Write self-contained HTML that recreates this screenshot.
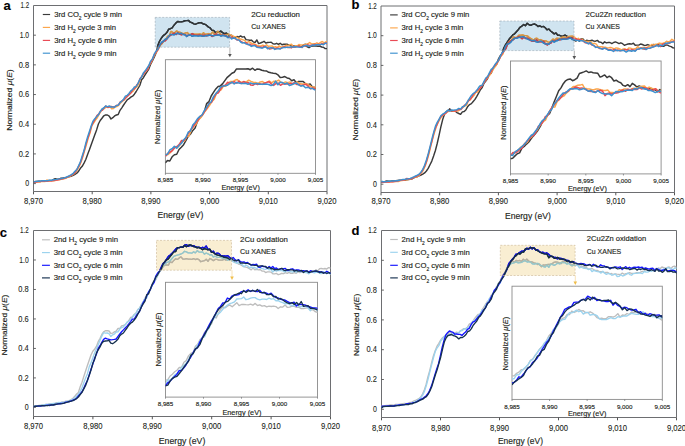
<!DOCTYPE html>
<html><head><meta charset="utf-8"><style>
html,body{margin:0;padding:0;background:#fff;width:685px;height:446px;overflow:hidden}
svg{display:block;font-family:"Liberation Sans", sans-serif}
text{stroke:#231f20;stroke-width:0.14px}
.tk{stroke-width:0.1px}
</style></head><body>
<svg width="685" height="446" viewBox="0 0 685 446">
<rect width="685" height="446" fill="#fff"/>
<path d="M33.5,5.5 L327.0,5.5 L327.0,191.5 L33.5,191.5 Z" fill="none" stroke="#6d6e71" stroke-width="1"/>
<line x1="33.5" y1="183.60" x2="35.9" y2="183.60" stroke="#555" stroke-width="0.9"/>
<text x="29.10" y="186.30" font-size="8.6" text-anchor="end" textLength="3.9" lengthAdjust="spacingAndGlyphs" fill="#231f20" class="tk">0</text>
<line x1="33.5" y1="153.92" x2="35.9" y2="153.92" stroke="#555" stroke-width="0.9"/>
<text x="29.10" y="156.62" font-size="8.6" text-anchor="end" textLength="10.4" lengthAdjust="spacingAndGlyphs" fill="#231f20" class="tk">0.2</text>
<line x1="33.5" y1="124.23" x2="35.9" y2="124.23" stroke="#555" stroke-width="0.9"/>
<text x="29.10" y="126.93" font-size="8.6" text-anchor="end" textLength="10.4" lengthAdjust="spacingAndGlyphs" fill="#231f20" class="tk">0.4</text>
<line x1="33.5" y1="94.55" x2="35.9" y2="94.55" stroke="#555" stroke-width="0.9"/>
<text x="29.10" y="97.25" font-size="8.6" text-anchor="end" textLength="10.4" lengthAdjust="spacingAndGlyphs" fill="#231f20" class="tk">0.6</text>
<line x1="33.5" y1="64.87" x2="35.9" y2="64.87" stroke="#555" stroke-width="0.9"/>
<text x="29.10" y="67.57" font-size="8.6" text-anchor="end" textLength="10.4" lengthAdjust="spacingAndGlyphs" fill="#231f20" class="tk">0.8</text>
<line x1="33.5" y1="35.18" x2="35.9" y2="35.18" stroke="#555" stroke-width="0.9"/>
<text x="29.10" y="37.88" font-size="8.6" text-anchor="end" textLength="9.4" lengthAdjust="spacingAndGlyphs" fill="#231f20" class="tk">1.0</text>
<text x="29.10" y="8.20" font-size="8.6" text-anchor="end" textLength="8.6" lengthAdjust="spacingAndGlyphs" fill="#231f20" class="tk">1.2</text>
<line x1="33.50" y1="191.5" x2="33.50" y2="194.3" stroke="#555" stroke-width="1"/>
<text x="33.50" y="203.50" font-size="8.6" text-anchor="middle" textLength="19.2" lengthAdjust="spacingAndGlyphs" fill="#231f20" class="tk">8,970</text>
<line x1="92.20" y1="191.5" x2="92.20" y2="194.3" stroke="#555" stroke-width="1"/>
<text x="92.20" y="203.50" font-size="8.6" text-anchor="middle" textLength="19.2" lengthAdjust="spacingAndGlyphs" fill="#231f20" class="tk">8,980</text>
<line x1="150.90" y1="191.5" x2="150.90" y2="194.3" stroke="#555" stroke-width="1"/>
<text x="150.90" y="203.50" font-size="8.6" text-anchor="middle" textLength="19.2" lengthAdjust="spacingAndGlyphs" fill="#231f20" class="tk">8,990</text>
<line x1="209.60" y1="191.5" x2="209.60" y2="194.3" stroke="#555" stroke-width="1"/>
<text x="209.60" y="203.50" font-size="8.6" text-anchor="middle" textLength="19.2" lengthAdjust="spacingAndGlyphs" fill="#231f20" class="tk">9,000</text>
<line x1="268.30" y1="191.5" x2="268.30" y2="194.3" stroke="#555" stroke-width="1"/>
<text x="268.30" y="203.50" font-size="8.6" text-anchor="middle" textLength="19.2" lengthAdjust="spacingAndGlyphs" fill="#231f20" class="tk">9,010</text>
<line x1="327.00" y1="191.5" x2="327.00" y2="194.3" stroke="#555" stroke-width="1"/>
<text x="327.00" y="203.50" font-size="8.6" text-anchor="middle" textLength="19.2" lengthAdjust="spacingAndGlyphs" fill="#231f20" class="tk">9,020</text>
<text x="157.50" y="218.00" font-size="8.4" textLength="45.80000000000001" lengthAdjust="spacingAndGlyphs" fill="#231f20">Energy (eV)</text>
<text transform="translate(11.5,130.70) rotate(-90)" x="0" y="0" font-size="8" fill="#231f20" textLength="61.4" lengthAdjust="spacingAndGlyphs">Normalized <tspan font-style="italic">μ</tspan>(<tspan font-style="italic">E</tspan>)</text>
<text x="3.60" y="9.70" font-size="13" font-weight="bold" fill="#000">a</text>
<line x1="42.8" y1="14.5" x2="50.1" y2="14.5" stroke="#3a3a3a" stroke-width="1.15"/>
<text x="54.2" y="17.00" font-size="7.3" fill="#231f20" textLength="67.8" lengthAdjust="spacingAndGlyphs">3rd CO<tspan font-size="4.6" dy="2.8">2</tspan><tspan dy="-2.8"> cycle 9 min</tspan></text>
<line x1="42.8" y1="27.4" x2="50.1" y2="27.4" stroke="#fca64c" stroke-width="1.15"/>
<text x="54.2" y="29.90" font-size="7.3" fill="#231f20" textLength="61.9" lengthAdjust="spacingAndGlyphs">3rd H<tspan font-size="4.6" dy="2.8">2</tspan><tspan dy="-2.8"> cycle 3 min</tspan></text>
<line x1="42.8" y1="40.4" x2="50.1" y2="40.4" stroke="#e94b56" stroke-width="1.15"/>
<text x="54.2" y="42.90" font-size="7.3" fill="#231f20" textLength="62.4" lengthAdjust="spacingAndGlyphs">3rd H<tspan font-size="4.6" dy="2.8">2</tspan><tspan dy="-2.8"> cycle 6 min</tspan></text>
<line x1="42.8" y1="53.2" x2="50.1" y2="53.2" stroke="#3d91cf" stroke-width="1.15"/>
<text x="54.2" y="55.70" font-size="7.3" fill="#231f20" textLength="62.4" lengthAdjust="spacingAndGlyphs">3rd H<tspan font-size="4.6" dy="2.8">2</tspan><tspan dy="-2.8"> cycle 9 min</tspan></text>
<text x="251.20" y="16.80" font-size="7.3" textLength="48.8" lengthAdjust="spacingAndGlyphs" fill="#231f20">2Cu reduction</text>
<text x="251.20" y="29.40" font-size="7.3" textLength="34.6" lengthAdjust="spacingAndGlyphs" fill="#231f20">Cu XANES</text>
<rect x="155.2" y="17.4" width="74.4" height="29.800000000000004" fill="#d0e4f0"/>
<clipPath id="am"><rect x="33.5" y="5.5" width="293.5" height="186.0"/></clipPath>
<path d="M33.6,182.0 L35.4,181.5 L37.2,181.4 L39.0,181.1 L40.8,181.4 L42.6,180.7 L44.4,181.3 L46.2,180.7 L48.0,180.8 L49.8,180.5 L51.6,180.6 L53.4,179.5 L55.2,178.8 L57.0,179.1 L58.8,179.1 L60.6,178.3 L62.4,178.1 L64.2,177.6 L66.0,177.5 L67.8,177.2 L69.6,176.5 L71.4,176.2 L73.2,175.3 L75.0,174.3 L76.8,173.2 L78.6,171.2 L80.4,168.3 L82.2,166.3 L84.0,163.1 L85.8,159.5 L87.6,154.4 L89.4,149.8 L91.2,144.8 L93.0,139.8 L94.8,134.8 L96.6,129.9 L98.4,124.0 L100.2,120.5 L102.0,118.2 L103.8,115.8 L105.6,114.9 L107.4,115.0 L109.2,116.1 L111.0,119.0 L112.8,117.7 L114.6,115.9 L116.4,115.0 L118.2,114.5 L120.0,110.3 L121.8,107.8 L123.6,105.0 L125.4,102.4 L127.2,99.8 L129.0,98.7 L130.8,97.1 L132.6,96.2 L134.4,94.2 L136.2,91.5 L138.0,88.5 L139.8,85.5 L141.6,79.8 L143.4,77.7 L145.2,74.7 L147.0,71.8 L148.8,69.1 L150.6,64.3 L152.4,61.0 L154.2,57.1 L156.0,53.1 L157.8,45.6 L159.6,41.1 L161.4,38.0 L163.2,35.7 L165.0,34.4 L166.8,32.6 L168.6,29.3 L170.4,28.7 L172.2,27.8 L174.0,25.2 L175.8,23.1 L177.6,21.5 L179.4,21.8 L181.2,21.9 L183.0,21.5 L184.8,20.8 L186.6,20.6 L188.4,20.4 L190.2,22.1 L192.0,22.7 L193.8,23.9 L195.6,24.2 L197.4,23.4 L199.2,22.8 L201.0,22.6 L202.8,23.7 L204.6,24.2 L206.4,25.2 L208.2,26.9 L210.0,27.8 L211.8,30.1 L213.6,30.4 L215.4,32.5 L217.2,32.1 L219.0,32.2 L220.8,31.1 L222.6,32.6 L224.4,33.7 L226.2,33.1 L228.0,34.3 L229.8,35.4 L231.6,35.2 L233.4,38.3 L235.2,37.9 L237.0,36.5 L238.8,37.2 L240.6,35.9 L242.4,37.1 L244.2,36.6 L246.0,39.6 L247.8,39.9 L249.6,40.3 L251.4,40.1 L253.2,41.8 L255.0,42.6 L256.8,39.9 L258.6,43.6 L260.4,43.0 L262.2,42.3 L264.0,41.3 L265.8,43.1 L267.6,42.5 L269.4,42.4 L271.2,42.2 L273.0,43.7 L274.8,44.1 L276.6,43.3 L278.4,44.4 L280.2,43.3 L282.0,44.8 L283.8,44.2 L285.6,44.1 L287.4,44.3 L289.2,45.3 L291.0,45.7 L292.8,46.0 L294.6,46.0 L296.4,46.1 L298.2,45.8 L300.0,46.3 L301.8,46.6 L303.6,45.0 L305.4,44.3 L307.2,46.9 L309.0,47.7 L310.8,46.4 L312.6,46.0 L314.4,46.0 L316.2,46.0 L318.0,46.3 L319.8,46.0 L321.6,47.0 L323.4,47.2 L325.2,48.6 L327.0,48.6" fill="none" stroke="#3a3a3a" stroke-width="1.45" stroke-linejoin="round" clip-path="url(#am)"/>
<path d="M34.3,182.2 L36.1,182.1 L37.9,181.7 L39.7,182.1 L41.5,181.4 L43.3,181.4 L45.1,181.5 L46.9,180.0 L48.7,180.9 L50.5,180.8 L52.3,180.8 L54.1,180.8 L55.9,180.2 L57.7,179.7 L59.5,179.7 L61.3,179.3 L63.1,179.0 L64.9,178.6 L66.7,177.6 L68.5,177.1 L70.3,176.2 L72.1,175.2 L73.9,173.9 L75.7,172.0 L77.5,169.5 L79.3,166.2 L81.1,161.9 L82.9,156.5 L84.7,150.3 L86.5,144.2 L88.3,137.8 L90.1,132.7 L91.9,125.6 L93.7,122.8 L95.5,120.0 L97.3,117.7 L99.1,114.5 L100.9,111.3 L102.7,109.7 L104.5,108.4 L106.3,107.0 L108.1,107.6 L109.9,106.3 L111.7,108.7 L113.5,108.5 L115.3,106.8 L117.1,106.5 L118.9,105.1 L120.7,102.9 L122.5,101.3 L124.3,99.9 L126.1,97.4 L127.9,95.6 L129.7,93.9 L131.5,92.3 L133.3,91.0 L135.1,88.1 L136.9,86.8 L138.7,83.8 L140.5,78.8 L142.3,75.7 L144.1,73.2 L145.9,71.4 L147.7,69.3 L149.5,64.7 L151.3,62.3 L153.1,58.3 L154.9,54.3 L156.7,52.1 L158.5,49.0 L160.3,45.1 L162.1,43.4 L163.9,40.9 L165.7,39.5 L167.5,36.4 L169.3,35.5 L171.1,31.4 L172.9,32.4 L174.7,32.7 L176.5,30.9 L178.3,31.9 L180.1,32.3 L181.9,33.3 L183.7,33.8 L185.5,33.0 L187.3,32.6 L189.1,34.5 L190.9,34.5 L192.7,33.6 L194.5,34.1 L196.3,34.1 L198.1,34.2 L199.9,34.0 L201.7,34.7 L203.5,32.8 L205.3,34.4 L207.1,34.0 L208.9,33.6 L210.7,34.3 L212.5,32.1 L214.3,34.0 L216.1,33.4 L217.9,31.2 L219.7,33.2 L221.5,34.8 L223.3,35.1 L225.1,35.0 L226.9,34.5 L228.7,34.3 L230.5,34.9 L232.3,35.8 L234.1,36.4 L235.9,36.9 L237.7,37.8 L239.5,38.7 L241.3,39.3 L243.1,39.9 L244.9,40.5 L246.7,43.3 L248.5,41.5 L250.3,42.4 L252.1,43.8 L253.9,43.8 L255.7,44.8 L257.5,45.5 L259.3,46.0 L261.1,45.9 L262.9,45.1 L264.7,46.5 L266.5,44.7 L268.3,46.2 L270.1,46.1 L271.9,45.9 L273.7,47.1 L275.5,46.8 L277.3,47.5 L279.1,45.9 L280.9,47.1 L282.7,46.7 L284.5,46.3 L286.3,45.2 L288.1,45.7 L289.9,44.8 L291.7,44.3 L293.5,47.3 L295.3,45.7 L297.1,46.0 L298.9,44.5 L300.7,45.0 L302.5,44.9 L304.3,44.6 L306.1,44.1 L307.9,43.8 L309.7,42.5 L311.5,43.9 L313.3,43.6 L315.1,43.8 L316.9,42.8 L318.7,43.8 L320.5,42.4 L322.3,41.5 L324.1,42.8 L325.9,41.8 L327.6,41.2" fill="none" stroke="#fca64c" stroke-width="1.45" stroke-linejoin="round" clip-path="url(#am)"/>
<path d="M33.9,182.3 L35.7,182.0 L37.5,181.8 L39.3,181.4 L41.1,181.4 L42.9,181.3 L44.7,181.2 L46.5,180.9 L48.3,180.9 L50.1,180.6 L51.9,180.9 L53.7,180.6 L55.5,180.1 L57.3,180.0 L59.1,179.5 L60.9,179.1 L62.7,178.7 L64.5,178.0 L66.3,177.7 L68.1,176.7 L69.9,175.9 L71.7,175.0 L73.5,173.9 L75.3,172.0 L77.1,169.2 L78.9,165.9 L80.7,162.0 L82.5,156.6 L84.3,150.3 L86.1,143.9 L87.9,137.9 L89.7,132.4 L91.5,126.0 L93.3,122.3 L95.1,119.2 L96.9,115.6 L98.7,114.1 L100.5,111.1 L102.3,110.2 L104.1,107.8 L105.9,106.0 L107.7,107.3 L109.5,107.0 L111.3,106.4 L113.1,107.1 L114.9,106.5 L116.7,105.4 L118.5,104.9 L120.3,101.8 L122.1,100.9 L123.9,99.7 L125.7,98.0 L127.5,96.3 L129.3,94.4 L131.1,92.7 L132.9,89.3 L134.7,88.8 L136.5,85.2 L138.3,83.1 L140.1,78.5 L141.9,76.4 L143.7,73.8 L145.5,71.1 L147.3,70.0 L149.1,65.3 L150.9,62.2 L152.7,58.6 L154.5,54.3 L156.3,51.8 L158.1,49.5 L159.9,44.7 L161.7,43.3 L163.5,40.9 L165.3,40.8 L167.1,38.5 L168.9,36.6 L170.7,35.0 L172.5,34.2 L174.3,33.1 L176.1,34.5 L177.9,32.8 L179.7,34.1 L181.5,34.7 L183.3,34.1 L185.1,34.9 L186.9,35.7 L188.7,35.2 L190.5,34.9 L192.3,33.7 L194.1,34.9 L195.9,35.1 L197.7,35.2 L199.5,34.9 L201.3,35.7 L203.1,35.1 L204.9,35.3 L206.7,35.8 L208.5,34.8 L210.3,35.0 L212.1,36.4 L213.9,35.4 L215.7,34.0 L217.5,34.5 L219.3,34.9 L221.1,35.5 L222.9,35.2 L224.7,35.2 L226.5,36.4 L228.3,36.7 L230.1,37.0 L231.9,37.2 L233.7,38.1 L235.5,38.7 L237.3,40.1 L239.1,40.0 L240.9,41.4 L242.7,42.4 L244.5,42.9 L246.3,42.8 L248.1,44.8 L249.9,44.1 L251.7,45.3 L253.5,45.2 L255.3,45.1 L257.1,46.7 L258.9,47.0 L260.7,47.0 L262.5,47.4 L264.3,46.2 L266.1,47.2 L267.9,47.7 L269.7,49.1 L271.5,48.6 L273.3,48.0 L275.1,48.8 L276.9,48.2 L278.7,48.1 L280.5,48.7 L282.3,47.7 L284.1,46.8 L285.9,47.1 L287.7,47.5 L289.5,47.4 L291.3,47.9 L293.1,46.5 L294.9,47.2 L296.7,46.8 L298.5,46.3 L300.3,46.7 L302.1,47.5 L303.9,45.4 L305.7,46.3 L307.5,44.8 L309.3,45.4 L311.1,45.1 L312.9,45.2 L314.7,44.3 L316.5,44.6 L318.3,44.3 L320.1,44.8 L321.9,43.6 L323.7,43.9 L325.5,43.2 L327.3,42.8 L327.3,45.1" fill="none" stroke="#e94b56" stroke-width="1.45" stroke-linejoin="round" clip-path="url(#am)"/>
<path d="M33.6,181.7 L35.4,181.6 L37.2,181.2 L39.0,181.3 L40.8,181.0 L42.6,180.7 L44.4,180.7 L46.2,180.7 L48.0,180.5 L49.8,180.1 L51.6,180.2 L53.4,179.8 L55.2,179.6 L57.0,179.4 L58.8,178.9 L60.6,178.8 L62.4,178.3 L64.2,178.0 L66.0,177.3 L67.8,176.5 L69.6,175.6 L71.4,174.6 L73.2,173.3 L75.0,171.3 L76.8,169.5 L78.6,165.7 L80.4,161.9 L82.2,155.9 L84.0,150.6 L85.8,143.2 L87.6,137.0 L89.4,131.5 L91.2,126.1 L93.0,121.1 L94.8,118.7 L96.6,116.8 L98.4,114.8 L100.2,111.7 L102.0,109.0 L103.8,108.0 L105.6,105.9 L107.4,106.8 L109.2,106.0 L111.0,107.0 L112.8,106.9 L114.6,107.3 L116.4,105.4 L118.2,105.2 L120.0,102.6 L121.8,101.1 L123.6,99.2 L125.4,96.1 L127.2,95.3 L129.0,93.4 L130.8,90.9 L132.6,89.7 L134.4,87.0 L136.2,86.5 L138.0,83.4 L139.8,79.5 L141.6,76.9 L143.4,72.9 L145.2,70.8 L147.0,68.1 L148.8,65.5 L150.6,61.1 L152.4,58.9 L154.2,54.2 L156.0,51.2 L157.8,49.1 L159.6,45.6 L161.4,42.5 L163.2,41.5 L165.0,39.5 L166.8,38.8 L168.6,36.5 L170.4,34.4 L172.2,34.6 L174.0,34.8 L175.8,33.8 L177.6,33.3 L179.4,33.9 L181.2,33.2 L183.0,34.5 L184.8,34.4 L186.6,36.5 L188.4,35.2 L190.2,34.8 L192.0,36.3 L193.8,35.7 L195.6,35.8 L197.4,35.9 L199.2,35.9 L201.0,35.5 L202.8,36.3 L204.6,36.0 L206.4,35.4 L208.2,35.5 L210.0,35.0 L211.8,35.6 L213.6,35.7 L215.4,35.4 L217.2,35.2 L219.0,34.8 L220.8,36.0 L222.6,35.3 L224.4,35.8 L226.2,35.9 L228.0,37.6 L229.8,37.0 L231.6,39.1 L233.4,37.7 L235.2,38.3 L237.0,39.7 L238.8,39.9 L240.6,42.0 L242.4,43.0 L244.2,42.6 L246.0,44.0 L247.8,44.2 L249.6,45.1 L251.4,46.4 L253.2,45.7 L255.0,45.7 L256.8,47.3 L258.6,47.5 L260.4,47.8 L262.2,48.2 L264.0,47.3 L265.8,46.8 L267.6,48.7 L269.4,48.0 L271.2,47.7 L273.0,47.9 L274.8,49.4 L276.6,48.9 L278.4,48.8 L280.2,49.0 L282.0,47.9 L283.8,47.5 L285.6,47.5 L287.4,47.1 L289.2,47.4 L291.0,46.9 L292.8,47.2 L294.6,46.7 L296.4,46.8 L298.2,47.1 L300.0,47.4 L301.8,47.3 L303.6,46.2 L305.4,45.5 L307.2,45.5 L309.0,46.2 L310.8,46.3 L312.6,44.9 L314.4,45.5 L316.2,44.7 L318.0,44.6 L319.8,44.7 L321.6,44.1 L323.4,44.7 L325.2,43.1 L327.0,43.4" fill="none" stroke="#3d91cf" stroke-width="1.45" stroke-linejoin="round" clip-path="url(#am)"/>
<clipPath id="ah"><rect x="155.2" y="17.4" width="74.4" height="29.800000000000004"/></clipPath>
<path d="M33.6,182.0 L35.4,181.5 L37.2,181.4 L39.0,181.1 L40.8,181.4 L42.6,180.7 L44.4,181.3 L46.2,180.7 L48.0,180.8 L49.8,180.5 L51.6,180.6 L53.4,179.5 L55.2,178.8 L57.0,179.1 L58.8,179.1 L60.6,178.3 L62.4,178.1 L64.2,177.6 L66.0,177.5 L67.8,177.2 L69.6,176.5 L71.4,176.2 L73.2,175.3 L75.0,174.3 L76.8,173.2 L78.6,171.2 L80.4,168.3 L82.2,166.3 L84.0,163.1 L85.8,159.5 L87.6,154.4 L89.4,149.8 L91.2,144.8 L93.0,139.8 L94.8,134.8 L96.6,129.9 L98.4,124.0 L100.2,120.5 L102.0,118.2 L103.8,115.8 L105.6,114.9 L107.4,115.0 L109.2,116.1 L111.0,119.0 L112.8,117.7 L114.6,115.9 L116.4,115.0 L118.2,114.5 L120.0,110.3 L121.8,107.8 L123.6,105.0 L125.4,102.4 L127.2,99.8 L129.0,98.7 L130.8,97.1 L132.6,96.2 L134.4,94.2 L136.2,91.5 L138.0,88.5 L139.8,85.5 L141.6,79.8 L143.4,77.7 L145.2,74.7 L147.0,71.8 L148.8,69.1 L150.6,64.3 L152.4,61.0 L154.2,57.1 L156.0,53.1 L157.8,45.6 L159.6,41.1 L161.4,38.0 L163.2,35.7 L165.0,34.4 L166.8,32.6 L168.6,29.3 L170.4,28.7 L172.2,27.8 L174.0,25.2 L175.8,23.1 L177.6,21.5 L179.4,21.8 L181.2,21.9 L183.0,21.5 L184.8,20.8 L186.6,20.6 L188.4,20.4 L190.2,22.1 L192.0,22.7 L193.8,23.9 L195.6,24.2 L197.4,23.4 L199.2,22.8 L201.0,22.6 L202.8,23.7 L204.6,24.2 L206.4,25.2 L208.2,26.9 L210.0,27.8 L211.8,30.1 L213.6,30.4 L215.4,32.5 L217.2,32.1 L219.0,32.2 L220.8,31.1 L222.6,32.6 L224.4,33.7 L226.2,33.1 L228.0,34.3 L229.8,35.4 L231.6,35.2 L233.4,38.3 L235.2,37.9 L237.0,36.5 L238.8,37.2 L240.6,35.9 L242.4,37.1 L244.2,36.6 L246.0,39.6 L247.8,39.9 L249.6,40.3 L251.4,40.1 L253.2,41.8 L255.0,42.6 L256.8,39.9 L258.6,43.6 L260.4,43.0 L262.2,42.3 L264.0,41.3 L265.8,43.1 L267.6,42.5 L269.4,42.4 L271.2,42.2 L273.0,43.7 L274.8,44.1 L276.6,43.3 L278.4,44.4 L280.2,43.3 L282.0,44.8 L283.8,44.2 L285.6,44.1 L287.4,44.3 L289.2,45.3 L291.0,45.7 L292.8,46.0 L294.6,46.0 L296.4,46.1 L298.2,45.8 L300.0,46.3 L301.8,46.6 L303.6,45.0 L305.4,44.3 L307.2,46.9 L309.0,47.7 L310.8,46.4 L312.6,46.0 L314.4,46.0 L316.2,46.0 L318.0,46.3 L319.8,46.0 L321.6,47.0 L323.4,47.2 L325.2,48.6 L327.0,48.6" fill="none" stroke="#2f3437" stroke-width="1.45" stroke-linejoin="round" clip-path="url(#ah)"/>
<path d="M34.3,182.2 L36.1,182.1 L37.9,181.7 L39.7,182.1 L41.5,181.4 L43.3,181.4 L45.1,181.5 L46.9,180.0 L48.7,180.9 L50.5,180.8 L52.3,180.8 L54.1,180.8 L55.9,180.2 L57.7,179.7 L59.5,179.7 L61.3,179.3 L63.1,179.0 L64.9,178.6 L66.7,177.6 L68.5,177.1 L70.3,176.2 L72.1,175.2 L73.9,173.9 L75.7,172.0 L77.5,169.5 L79.3,166.2 L81.1,161.9 L82.9,156.5 L84.7,150.3 L86.5,144.2 L88.3,137.8 L90.1,132.7 L91.9,125.6 L93.7,122.8 L95.5,120.0 L97.3,117.7 L99.1,114.5 L100.9,111.3 L102.7,109.7 L104.5,108.4 L106.3,107.0 L108.1,107.6 L109.9,106.3 L111.7,108.7 L113.5,108.5 L115.3,106.8 L117.1,106.5 L118.9,105.1 L120.7,102.9 L122.5,101.3 L124.3,99.9 L126.1,97.4 L127.9,95.6 L129.7,93.9 L131.5,92.3 L133.3,91.0 L135.1,88.1 L136.9,86.8 L138.7,83.8 L140.5,78.8 L142.3,75.7 L144.1,73.2 L145.9,71.4 L147.7,69.3 L149.5,64.7 L151.3,62.3 L153.1,58.3 L154.9,54.3 L156.7,52.1 L158.5,49.0 L160.3,45.1 L162.1,43.4 L163.9,40.9 L165.7,39.5 L167.5,36.4 L169.3,35.5 L171.1,31.4 L172.9,32.4 L174.7,32.7 L176.5,30.9 L178.3,31.9 L180.1,32.3 L181.9,33.3 L183.7,33.8 L185.5,33.0 L187.3,32.6 L189.1,34.5 L190.9,34.5 L192.7,33.6 L194.5,34.1 L196.3,34.1 L198.1,34.2 L199.9,34.0 L201.7,34.7 L203.5,32.8 L205.3,34.4 L207.1,34.0 L208.9,33.6 L210.7,34.3 L212.5,32.1 L214.3,34.0 L216.1,33.4 L217.9,31.2 L219.7,33.2 L221.5,34.8 L223.3,35.1 L225.1,35.0 L226.9,34.5 L228.7,34.3 L230.5,34.9 L232.3,35.8 L234.1,36.4 L235.9,36.9 L237.7,37.8 L239.5,38.7 L241.3,39.3 L243.1,39.9 L244.9,40.5 L246.7,43.3 L248.5,41.5 L250.3,42.4 L252.1,43.8 L253.9,43.8 L255.7,44.8 L257.5,45.5 L259.3,46.0 L261.1,45.9 L262.9,45.1 L264.7,46.5 L266.5,44.7 L268.3,46.2 L270.1,46.1 L271.9,45.9 L273.7,47.1 L275.5,46.8 L277.3,47.5 L279.1,45.9 L280.9,47.1 L282.7,46.7 L284.5,46.3 L286.3,45.2 L288.1,45.7 L289.9,44.8 L291.7,44.3 L293.5,47.3 L295.3,45.7 L297.1,46.0 L298.9,44.5 L300.7,45.0 L302.5,44.9 L304.3,44.6 L306.1,44.1 L307.9,43.8 L309.7,42.5 L311.5,43.9 L313.3,43.6 L315.1,43.8 L316.9,42.8 L318.7,43.8 L320.5,42.4 L322.3,41.5 L324.1,42.8 L325.9,41.8 L327.6,41.2" fill="none" stroke="#ce9448" stroke-width="1.45" stroke-linejoin="round" clip-path="url(#ah)"/>
<path d="M33.9,182.3 L35.7,182.0 L37.5,181.8 L39.3,181.4 L41.1,181.4 L42.9,181.3 L44.7,181.2 L46.5,180.9 L48.3,180.9 L50.1,180.6 L51.9,180.9 L53.7,180.6 L55.5,180.1 L57.3,180.0 L59.1,179.5 L60.9,179.1 L62.7,178.7 L64.5,178.0 L66.3,177.7 L68.1,176.7 L69.9,175.9 L71.7,175.0 L73.5,173.9 L75.3,172.0 L77.1,169.2 L78.9,165.9 L80.7,162.0 L82.5,156.6 L84.3,150.3 L86.1,143.9 L87.9,137.9 L89.7,132.4 L91.5,126.0 L93.3,122.3 L95.1,119.2 L96.9,115.6 L98.7,114.1 L100.5,111.1 L102.3,110.2 L104.1,107.8 L105.9,106.0 L107.7,107.3 L109.5,107.0 L111.3,106.4 L113.1,107.1 L114.9,106.5 L116.7,105.4 L118.5,104.9 L120.3,101.8 L122.1,100.9 L123.9,99.7 L125.7,98.0 L127.5,96.3 L129.3,94.4 L131.1,92.7 L132.9,89.3 L134.7,88.8 L136.5,85.2 L138.3,83.1 L140.1,78.5 L141.9,76.4 L143.7,73.8 L145.5,71.1 L147.3,70.0 L149.1,65.3 L150.9,62.2 L152.7,58.6 L154.5,54.3 L156.3,51.8 L158.1,49.5 L159.9,44.7 L161.7,43.3 L163.5,40.9 L165.3,40.8 L167.1,38.5 L168.9,36.6 L170.7,35.0 L172.5,34.2 L174.3,33.1 L176.1,34.5 L177.9,32.8 L179.7,34.1 L181.5,34.7 L183.3,34.1 L185.1,34.9 L186.9,35.7 L188.7,35.2 L190.5,34.9 L192.3,33.7 L194.1,34.9 L195.9,35.1 L197.7,35.2 L199.5,34.9 L201.3,35.7 L203.1,35.1 L204.9,35.3 L206.7,35.8 L208.5,34.8 L210.3,35.0 L212.1,36.4 L213.9,35.4 L215.7,34.0 L217.5,34.5 L219.3,34.9 L221.1,35.5 L222.9,35.2 L224.7,35.2 L226.5,36.4 L228.3,36.7 L230.1,37.0 L231.9,37.2 L233.7,38.1 L235.5,38.7 L237.3,40.1 L239.1,40.0 L240.9,41.4 L242.7,42.4 L244.5,42.9 L246.3,42.8 L248.1,44.8 L249.9,44.1 L251.7,45.3 L253.5,45.2 L255.3,45.1 L257.1,46.7 L258.9,47.0 L260.7,47.0 L262.5,47.4 L264.3,46.2 L266.1,47.2 L267.9,47.7 L269.7,49.1 L271.5,48.6 L273.3,48.0 L275.1,48.8 L276.9,48.2 L278.7,48.1 L280.5,48.7 L282.3,47.7 L284.1,46.8 L285.9,47.1 L287.7,47.5 L289.5,47.4 L291.3,47.9 L293.1,46.5 L294.9,47.2 L296.7,46.8 L298.5,46.3 L300.3,46.7 L302.1,47.5 L303.9,45.4 L305.7,46.3 L307.5,44.8 L309.3,45.4 L311.1,45.1 L312.9,45.2 L314.7,44.3 L316.5,44.6 L318.3,44.3 L320.1,44.8 L321.9,43.6 L323.7,43.9 L325.5,43.2 L327.3,42.8 L327.3,45.1" fill="none" stroke="#be4351" stroke-width="1.45" stroke-linejoin="round" clip-path="url(#ah)"/>
<path d="M33.6,181.7 L35.4,181.6 L37.2,181.2 L39.0,181.3 L40.8,181.0 L42.6,180.7 L44.4,180.7 L46.2,180.7 L48.0,180.5 L49.8,180.1 L51.6,180.2 L53.4,179.8 L55.2,179.6 L57.0,179.4 L58.8,178.9 L60.6,178.8 L62.4,178.3 L64.2,178.0 L66.0,177.3 L67.8,176.5 L69.6,175.6 L71.4,174.6 L73.2,173.3 L75.0,171.3 L76.8,169.5 L78.6,165.7 L80.4,161.9 L82.2,155.9 L84.0,150.6 L85.8,143.2 L87.6,137.0 L89.4,131.5 L91.2,126.1 L93.0,121.1 L94.8,118.7 L96.6,116.8 L98.4,114.8 L100.2,111.7 L102.0,109.0 L103.8,108.0 L105.6,105.9 L107.4,106.8 L109.2,106.0 L111.0,107.0 L112.8,106.9 L114.6,107.3 L116.4,105.4 L118.2,105.2 L120.0,102.6 L121.8,101.1 L123.6,99.2 L125.4,96.1 L127.2,95.3 L129.0,93.4 L130.8,90.9 L132.6,89.7 L134.4,87.0 L136.2,86.5 L138.0,83.4 L139.8,79.5 L141.6,76.9 L143.4,72.9 L145.2,70.8 L147.0,68.1 L148.8,65.5 L150.6,61.1 L152.4,58.9 L154.2,54.2 L156.0,51.2 L157.8,49.1 L159.6,45.6 L161.4,42.5 L163.2,41.5 L165.0,39.5 L166.8,38.8 L168.6,36.5 L170.4,34.4 L172.2,34.6 L174.0,34.8 L175.8,33.8 L177.6,33.3 L179.4,33.9 L181.2,33.2 L183.0,34.5 L184.8,34.4 L186.6,36.5 L188.4,35.2 L190.2,34.8 L192.0,36.3 L193.8,35.7 L195.6,35.8 L197.4,35.9 L199.2,35.9 L201.0,35.5 L202.8,36.3 L204.6,36.0 L206.4,35.4 L208.2,35.5 L210.0,35.0 L211.8,35.6 L213.6,35.7 L215.4,35.4 L217.2,35.2 L219.0,34.8 L220.8,36.0 L222.6,35.3 L224.4,35.8 L226.2,35.9 L228.0,37.6 L229.8,37.0 L231.6,39.1 L233.4,37.7 L235.2,38.3 L237.0,39.7 L238.8,39.9 L240.6,42.0 L242.4,43.0 L244.2,42.6 L246.0,44.0 L247.8,44.2 L249.6,45.1 L251.4,46.4 L253.2,45.7 L255.0,45.7 L256.8,47.3 L258.6,47.5 L260.4,47.8 L262.2,48.2 L264.0,47.3 L265.8,46.8 L267.6,48.7 L269.4,48.0 L271.2,47.7 L273.0,47.9 L274.8,49.4 L276.6,48.9 L278.4,48.8 L280.2,49.0 L282.0,47.9 L283.8,47.5 L285.6,47.5 L287.4,47.1 L289.2,47.4 L291.0,46.9 L292.8,47.2 L294.6,46.7 L296.4,46.8 L298.2,47.1 L300.0,47.4 L301.8,47.3 L303.6,46.2 L305.4,45.5 L307.2,45.5 L309.0,46.2 L310.8,46.3 L312.6,44.9 L314.4,45.5 L316.2,44.7 L318.0,44.6 L319.8,44.7 L321.6,44.1 L323.4,44.7 L325.2,43.1 L327.0,43.4" fill="none" stroke="#3282c3" stroke-width="1.45" stroke-linejoin="round" clip-path="url(#ah)"/>
<rect x="155.2" y="17.4" width="74.4" height="29.800000000000004" fill="none" stroke="#9aa8b4" stroke-width="0.6" stroke-dasharray="2,1.5"/>
<line x1="229.9" y1="47.4" x2="229.9" y2="54.3" stroke="#a0a0a0" stroke-width="0.8"/>
<path d="M228.1,53.9 L231.70000000000002,53.9 L229.9,57.3 Z" fill="#555555"/>
<rect x="165.4" y="59.7" width="150.1" height="113.60000000000001" fill="#fff" stroke="#8a8a8a" stroke-width="0.9"/>
<clipPath id="ai"><rect x="165.4" y="59.7" width="150.1" height="113.60000000000001"/></clipPath>
<path d="M165.2,162.9 L167.5,160.4 L169.8,161.0 L172.1,156.8 L174.4,154.8 L176.7,154.3 L179.0,149.5 L181.3,147.2 L183.6,144.7 L185.9,140.7 L188.2,136.4 L190.5,134.0 L192.8,130.4 L195.1,127.9 L197.4,121.6 L199.7,118.2 L202.0,115.6 L204.3,111.7 L206.6,103.6 L208.9,101.7 L211.2,96.0 L213.5,92.4 L215.8,88.9 L218.1,86.5 L220.4,85.9 L222.7,83.6 L225.0,80.4 L227.3,77.3 L229.6,75.4 L231.9,73.3 L234.2,72.2 L236.5,68.9 L238.8,69.0 L241.1,68.9 L243.4,68.9 L245.7,69.0 L248.0,68.7 L250.3,69.7 L252.6,68.2 L254.9,70.3 L257.2,68.9 L259.5,69.2 L261.8,70.2 L264.1,70.7 L266.4,70.9 L268.7,72.3 L271.0,72.8 L273.3,73.2 L275.6,73.4 L277.9,74.8 L280.2,77.5 L282.5,77.2 L284.8,76.6 L287.1,77.9 L289.4,78.5 L291.7,80.7 L294.0,79.8 L296.3,82.7 L298.6,81.5 L300.9,81.5 L303.2,81.5 L305.5,83.7 L307.8,84.7 L310.1,84.0 L312.4,86.9 L314.7,87.5 L315.5,89.3" fill="none" stroke="#3a3a3a" stroke-width="1.5" stroke-linejoin="round" clip-path="url(#ai)"/>
<path d="M165.9,154.9 L168.2,154.5 L170.5,152.4 L172.8,149.7 L175.1,146.6 L177.4,147.5 L179.7,145.5 L182.0,140.9 L184.3,141.3 L186.6,136.9 L188.9,136.0 L191.2,130.5 L193.5,126.3 L195.8,124.7 L198.1,120.1 L200.4,118.0 L202.7,114.9 L205.0,111.4 L207.3,108.6 L209.6,105.3 L211.9,101.5 L214.2,99.3 L216.5,93.2 L218.8,91.0 L221.1,89.8 L223.4,86.1 L225.7,86.2 L228.0,83.5 L230.3,81.6 L232.6,81.6 L234.9,80.3 L237.2,79.5 L239.5,81.7 L241.8,82.2 L244.1,81.8 L246.4,81.9 L248.7,80.2 L251.0,81.4 L253.3,82.3 L255.6,82.5 L257.9,83.5 L260.2,81.9 L262.5,81.6 L264.8,83.1 L267.1,82.1 L269.4,81.0 L271.7,82.8 L274.0,81.2 L276.3,81.4 L278.6,80.1 L280.9,82.3 L283.2,83.1 L285.5,81.9 L287.8,82.6 L290.1,81.9 L292.4,84.3 L294.7,83.6 L297.0,81.9 L299.3,83.2 L301.6,84.0 L303.9,84.0 L306.2,83.6 L308.5,84.8 L310.8,86.4 L313.1,87.2 L315.4,86.9 L316.1,88.4" fill="none" stroke="#fca64c" stroke-width="1.5" stroke-linejoin="round" clip-path="url(#ai)"/>
<path d="M165.5,156.4 L167.8,153.3 L170.1,152.0 L172.4,150.6 L174.7,147.8 L177.0,146.5 L179.3,144.3 L181.6,140.5 L183.9,140.6 L186.2,137.5 L188.5,133.0 L190.8,129.6 L193.1,126.8 L195.4,123.2 L197.7,120.3 L200.0,116.4 L202.3,115.1 L204.6,111.4 L206.9,108.1 L209.2,103.1 L211.5,102.4 L213.8,97.7 L216.1,93.8 L218.4,92.9 L220.7,88.9 L223.0,85.8 L225.3,85.1 L227.6,82.2 L229.9,83.5 L232.2,82.4 L234.5,81.8 L236.8,83.2 L239.1,81.1 L241.4,83.4 L243.7,81.5 L246.0,82.9 L248.3,82.6 L250.6,84.9 L252.9,85.3 L255.2,83.6 L257.5,84.6 L259.8,83.7 L262.1,84.4 L264.4,83.2 L266.7,82.4 L269.0,81.7 L271.3,83.9 L273.6,85.4 L275.9,83.7 L278.2,83.1 L280.5,85.3 L282.8,83.9 L285.1,83.9 L287.4,84.1 L289.7,83.8 L292.0,83.6 L294.3,82.7 L296.6,84.4 L298.9,84.3 L301.2,85.8 L303.5,84.9 L305.8,84.2 L308.1,86.1 L310.4,88.8 L312.7,88.0 L315.0,88.4 L315.8,88.8" fill="none" stroke="#e94b56" stroke-width="1.5" stroke-linejoin="round" clip-path="url(#ai)"/>
<path d="M165.2,154.7 L167.5,154.2 L169.8,150.0 L172.1,148.7 L174.4,146.2 L176.7,148.2 L179.0,145.4 L181.3,143.5 L183.6,140.0 L185.9,137.5 L188.2,132.2 L190.5,131.0 L192.8,125.0 L195.1,122.4 L197.4,118.8 L199.7,116.6 L202.0,115.0 L204.3,110.7 L206.6,107.4 L208.9,103.8 L211.2,101.7 L213.5,96.6 L215.8,93.6 L218.1,91.1 L220.4,87.1 L222.7,86.3 L225.0,85.8 L227.3,85.3 L229.6,83.7 L231.9,82.1 L234.2,84.0 L236.5,82.4 L238.8,82.9 L241.1,83.4 L243.4,83.5 L245.7,83.3 L248.0,84.3 L250.3,83.0 L252.6,83.7 L254.9,83.8 L257.2,83.4 L259.5,84.3 L261.8,84.3 L264.1,84.2 L266.4,84.0 L268.7,84.5 L271.0,85.5 L273.3,84.7 L275.6,81.1 L277.9,84.8 L280.2,82.3 L282.5,82.5 L284.8,84.2 L287.1,83.0 L289.4,85.5 L291.7,84.8 L294.0,83.5 L296.3,82.9 L298.6,84.9 L300.9,86.1 L303.2,85.6 L305.5,87.7 L307.8,87.2 L310.1,88.4 L312.4,88.4 L314.7,89.8 L315.5,89.7" fill="none" stroke="#3d91cf" stroke-width="1.5" stroke-linejoin="round" clip-path="url(#ai)"/>
<line x1="165.40" y1="173.3" x2="165.40" y2="174.9" stroke="#6d6e71" stroke-width="0.7"/>
<text x="165.40" y="182.00" font-size="6" text-anchor="middle" textLength="15.6" lengthAdjust="spacingAndGlyphs" fill="#231f20">8,985</text>
<line x1="202.93" y1="173.3" x2="202.93" y2="174.9" stroke="#6d6e71" stroke-width="0.7"/>
<text x="202.93" y="182.00" font-size="6" text-anchor="middle" textLength="15.6" lengthAdjust="spacingAndGlyphs" fill="#231f20">8,990</text>
<line x1="240.45" y1="173.3" x2="240.45" y2="174.9" stroke="#6d6e71" stroke-width="0.7"/>
<text x="240.45" y="182.00" font-size="6" text-anchor="middle" textLength="15.6" lengthAdjust="spacingAndGlyphs" fill="#231f20">8,995</text>
<line x1="277.98" y1="173.3" x2="277.98" y2="174.9" stroke="#6d6e71" stroke-width="0.7"/>
<text x="277.98" y="182.00" font-size="6" text-anchor="middle" textLength="15.6" lengthAdjust="spacingAndGlyphs" fill="#231f20">9,000</text>
<line x1="315.50" y1="173.3" x2="315.50" y2="174.9" stroke="#6d6e71" stroke-width="0.7"/>
<text x="315.50" y="182.00" font-size="6" text-anchor="middle" textLength="15.6" lengthAdjust="spacingAndGlyphs" fill="#231f20">9,005</text>
<text x="221.40" y="189.60" font-size="7" textLength="38.400000000000006" lengthAdjust="spacingAndGlyphs" fill="#231f20">Energy (eV)</text>
<text transform="translate(160.2,144.10) rotate(-90)" x="0" y="0" font-size="6.5" fill="#231f20" textLength="54.3" lengthAdjust="spacingAndGlyphs">Normalized <tspan font-style="italic">μ</tspan>(<tspan font-style="italic">E</tspan>)</text>
<path d="M381.0,6.0 L674.5,6.0 L674.5,192.5 L381.0,192.5 Z" fill="none" stroke="#6d6e71" stroke-width="1"/>
<line x1="381.0" y1="184.20" x2="383.4" y2="184.20" stroke="#555" stroke-width="0.9"/>
<text x="376.80" y="186.90" font-size="8.6" text-anchor="end" textLength="3.9" lengthAdjust="spacingAndGlyphs" fill="#231f20" class="tk">0</text>
<line x1="381.0" y1="154.50" x2="383.4" y2="154.50" stroke="#555" stroke-width="0.9"/>
<text x="376.80" y="157.20" font-size="8.6" text-anchor="end" textLength="10.4" lengthAdjust="spacingAndGlyphs" fill="#231f20" class="tk">0.2</text>
<line x1="381.0" y1="124.80" x2="383.4" y2="124.80" stroke="#555" stroke-width="0.9"/>
<text x="376.80" y="127.50" font-size="8.6" text-anchor="end" textLength="10.4" lengthAdjust="spacingAndGlyphs" fill="#231f20" class="tk">0.4</text>
<line x1="381.0" y1="95.10" x2="383.4" y2="95.10" stroke="#555" stroke-width="0.9"/>
<text x="376.80" y="97.80" font-size="8.6" text-anchor="end" textLength="10.4" lengthAdjust="spacingAndGlyphs" fill="#231f20" class="tk">0.6</text>
<line x1="381.0" y1="65.40" x2="383.4" y2="65.40" stroke="#555" stroke-width="0.9"/>
<text x="376.80" y="68.10" font-size="8.6" text-anchor="end" textLength="10.4" lengthAdjust="spacingAndGlyphs" fill="#231f20" class="tk">0.8</text>
<line x1="381.0" y1="35.70" x2="383.4" y2="35.70" stroke="#555" stroke-width="0.9"/>
<text x="376.80" y="38.40" font-size="8.6" text-anchor="end" textLength="9.4" lengthAdjust="spacingAndGlyphs" fill="#231f20" class="tk">1.0</text>
<text x="376.80" y="8.70" font-size="8.6" text-anchor="end" textLength="8.6" lengthAdjust="spacingAndGlyphs" fill="#231f20" class="tk">1.2</text>
<line x1="381.00" y1="192.5" x2="381.00" y2="195.3" stroke="#555" stroke-width="1"/>
<text x="381.00" y="204.30" font-size="8.6" text-anchor="middle" textLength="19.2" lengthAdjust="spacingAndGlyphs" fill="#231f20" class="tk">8,970</text>
<line x1="439.70" y1="192.5" x2="439.70" y2="195.3" stroke="#555" stroke-width="1"/>
<text x="439.70" y="204.30" font-size="8.6" text-anchor="middle" textLength="19.2" lengthAdjust="spacingAndGlyphs" fill="#231f20" class="tk">8,980</text>
<line x1="498.40" y1="192.5" x2="498.40" y2="195.3" stroke="#555" stroke-width="1"/>
<text x="498.40" y="204.30" font-size="8.6" text-anchor="middle" textLength="19.2" lengthAdjust="spacingAndGlyphs" fill="#231f20" class="tk">8,990</text>
<line x1="557.10" y1="192.5" x2="557.10" y2="195.3" stroke="#555" stroke-width="1"/>
<text x="557.10" y="204.30" font-size="8.6" text-anchor="middle" textLength="19.2" lengthAdjust="spacingAndGlyphs" fill="#231f20" class="tk">9,000</text>
<line x1="615.80" y1="192.5" x2="615.80" y2="195.3" stroke="#555" stroke-width="1"/>
<text x="615.80" y="204.30" font-size="8.6" text-anchor="middle" textLength="19.2" lengthAdjust="spacingAndGlyphs" fill="#231f20" class="tk">9,010</text>
<line x1="674.50" y1="192.5" x2="674.50" y2="195.3" stroke="#555" stroke-width="1"/>
<text x="674.50" y="204.30" font-size="8.6" text-anchor="middle" textLength="19.2" lengthAdjust="spacingAndGlyphs" fill="#231f20" class="tk">9,020</text>
<text x="504.90" y="218.50" font-size="8.4" textLength="46.0" lengthAdjust="spacingAndGlyphs" fill="#231f20">Energy (eV)</text>
<text transform="translate(357.5,140.40) rotate(-90)" x="0" y="0" font-size="8" fill="#231f20" textLength="61.6" lengthAdjust="spacingAndGlyphs">Normalized <tspan font-style="italic">μ</tspan>(<tspan font-style="italic">E</tspan>)</text>
<text x="351.50" y="9.30" font-size="13" font-weight="bold" fill="#000">b</text>
<line x1="390.1" y1="14.9" x2="397.7" y2="14.9" stroke="#3a3a3a" stroke-width="1.15"/>
<text x="401.5" y="17.40" font-size="7.3" fill="#231f20" textLength="67.9" lengthAdjust="spacingAndGlyphs">3rd CO<tspan font-size="4.6" dy="2.8">2</tspan><tspan dy="-2.8"> cycle 9 min</tspan></text>
<line x1="390.1" y1="27.9" x2="397.7" y2="27.9" stroke="#fca64c" stroke-width="1.15"/>
<text x="401.5" y="30.40" font-size="7.3" fill="#231f20" textLength="61.9" lengthAdjust="spacingAndGlyphs">3rd H<tspan font-size="4.6" dy="2.8">2</tspan><tspan dy="-2.8"> cycle 3 min</tspan></text>
<line x1="390.1" y1="40.5" x2="397.7" y2="40.5" stroke="#e94b56" stroke-width="1.15"/>
<text x="401.5" y="43.00" font-size="7.3" fill="#231f20" textLength="62.3" lengthAdjust="spacingAndGlyphs">3rd H<tspan font-size="4.6" dy="2.8">2</tspan><tspan dy="-2.8"> cycle 6 min</tspan></text>
<line x1="390.1" y1="53.2" x2="397.7" y2="53.2" stroke="#3d91cf" stroke-width="1.15"/>
<text x="401.5" y="55.70" font-size="7.3" fill="#231f20" textLength="62.3" lengthAdjust="spacingAndGlyphs">3rd H<tspan font-size="4.6" dy="2.8">2</tspan><tspan dy="-2.8"> cycle 9 min</tspan></text>
<text x="585.60" y="17.00" font-size="7.3" textLength="60.3" lengthAdjust="spacingAndGlyphs" fill="#231f20">2Cu2Zn reduction</text>
<text x="585.60" y="29.30" font-size="7.3" textLength="34.3" lengthAdjust="spacingAndGlyphs" fill="#231f20">Cu XANES</text>
<rect x="499.8" y="21.0" width="74.19999999999999" height="29.6" fill="#d0e4f0"/>
<clipPath id="bm"><rect x="381.0" y="6.0" width="293.5" height="186.5"/></clipPath>
<path d="M381.4,182.2 L383.2,181.7 L385.0,181.5 L386.8,181.0 L388.6,181.3 L390.4,181.1 L392.2,181.0 L394.0,181.0 L395.8,180.8 L397.6,180.4 L399.4,180.3 L401.2,180.3 L403.0,180.3 L404.8,180.2 L406.6,179.7 L408.4,179.5 L410.2,179.4 L412.0,179.0 L413.8,177.9 L415.6,177.1 L417.4,176.7 L419.2,175.7 L421.0,175.0 L422.8,174.2 L424.6,172.9 L426.4,171.0 L428.2,168.4 L430.0,164.7 L431.8,161.1 L433.6,156.0 L435.4,150.5 L437.2,143.5 L439.0,135.7 L440.8,127.1 L442.6,119.8 L444.4,114.5 L446.2,111.5 L448.0,111.0 L449.8,108.8 L451.6,111.3 L453.4,110.9 L455.2,110.9 L457.0,112.6 L458.8,113.5 L460.6,114.3 L462.4,111.9 L464.2,111.5 L466.0,109.7 L467.8,106.4 L469.6,104.6 L471.4,103.6 L473.2,101.5 L475.0,99.4 L476.8,96.4 L478.6,93.2 L480.4,89.7 L482.2,87.5 L484.0,83.2 L485.8,81.0 L487.6,78.6 L489.4,74.1 L491.2,73.3 L493.0,68.7 L494.8,66.1 L496.6,64.5 L498.4,59.0 L500.2,55.8 L502.0,53.8 L503.8,48.0 L505.6,44.6 L507.4,41.8 L509.2,39.1 L511.0,37.1 L512.8,34.9 L514.6,33.8 L516.4,31.7 L518.2,29.7 L520.0,27.3 L521.8,26.2 L523.6,24.5 L525.4,25.7 L527.2,23.3 L529.0,24.8 L530.8,25.3 L532.6,24.4 L534.4,24.0 L536.2,24.8 L538.0,26.5 L539.8,25.8 L541.6,26.9 L543.4,26.4 L545.2,27.8 L547.0,29.8 L548.8,29.1 L550.6,31.0 L552.4,32.4 L554.2,33.9 L556.0,33.0 L557.8,35.3 L559.6,35.3 L561.4,36.1 L563.2,35.9 L565.0,35.1 L566.8,36.1 L568.6,37.5 L570.4,37.4 L572.2,37.8 L574.0,39.8 L575.8,41.1 L577.6,39.5 L579.4,41.2 L581.2,38.7 L583.0,38.9 L584.8,41.2 L586.6,40.3 L588.4,40.8 L590.2,40.6 L592.0,40.2 L593.8,41.1 L595.6,41.2 L597.4,40.4 L599.2,42.1 L601.0,42.3 L602.8,43.8 L604.6,41.8 L606.4,42.9 L608.2,42.5 L610.0,42.5 L611.8,43.6 L613.6,42.5 L615.4,41.9 L617.2,42.7 L619.0,43.6 L620.8,42.8 L622.6,43.7 L624.4,45.2 L626.2,44.6 L628.0,44.0 L629.8,43.7 L631.6,44.1 L633.4,43.2 L635.2,45.3 L637.0,45.1 L638.8,45.1 L640.6,44.0 L642.4,44.5 L644.2,45.4 L646.0,45.2 L647.8,44.6 L649.6,45.4 L651.4,45.7 L653.2,44.5 L655.0,44.8 L656.8,44.7 L658.6,44.7 L660.4,46.4 L662.2,46.3 L664.0,46.2 L665.8,45.0 L667.6,45.1 L669.4,46.1 L671.2,46.6 L673.0,47.9 L674.8,48.0 L675.0,49.3" fill="none" stroke="#3a3a3a" stroke-width="1.45" stroke-linejoin="round" clip-path="url(#bm)"/>
<path d="M382.1,182.5 L383.9,182.3 L385.7,182.3 L387.5,181.8 L389.3,182.1 L391.1,181.6 L392.9,181.7 L394.7,181.5 L396.5,181.2 L398.3,181.6 L400.1,180.7 L401.9,180.6 L403.7,180.4 L405.5,179.8 L407.3,179.9 L409.1,179.3 L410.9,179.0 L412.7,178.1 L414.5,177.4 L416.3,177.0 L418.1,176.1 L419.9,174.6 L421.7,172.6 L423.5,169.8 L425.3,165.7 L427.1,160.3 L428.9,154.0 L430.7,146.7 L432.5,139.3 L434.3,133.1 L436.1,127.3 L437.9,123.0 L439.7,119.6 L441.5,116.7 L443.3,114.9 L445.1,113.8 L446.9,112.1 L448.7,111.3 L450.5,111.1 L452.3,110.6 L454.1,111.2 L455.9,110.7 L457.7,111.1 L459.5,109.8 L461.3,108.5 L463.1,107.3 L464.9,105.9 L466.7,105.3 L468.5,99.8 L470.3,99.8 L472.1,97.4 L473.9,95.6 L475.7,92.2 L477.5,92.1 L479.3,89.3 L481.1,86.4 L482.9,84.2 L484.7,81.3 L486.5,79.4 L488.3,76.7 L490.1,74.7 L491.9,71.6 L493.7,68.6 L495.5,66.3 L497.3,63.3 L499.1,59.6 L500.9,56.1 L502.7,54.5 L504.5,49.7 L506.3,45.9 L508.1,42.9 L509.9,41.0 L511.7,39.9 L513.5,36.8 L515.3,37.7 L517.1,37.1 L518.9,35.3 L520.7,35.2 L522.5,35.0 L524.3,35.5 L526.1,35.6 L527.9,36.3 L529.7,38.0 L531.5,38.9 L533.3,40.2 L535.1,38.8 L536.9,38.2 L538.7,39.7 L540.5,39.6 L542.3,40.5 L544.1,40.7 L545.9,41.0 L547.7,41.9 L549.5,42.2 L551.3,40.7 L553.1,39.1 L554.9,39.9 L556.7,38.3 L558.5,38.5 L560.3,38.5 L562.1,37.1 L563.9,36.8 L565.7,38.1 L567.5,36.8 L569.3,36.4 L571.1,36.2 L572.9,36.3 L574.7,37.1 L576.5,39.9 L578.3,38.2 L580.1,39.9 L581.9,39.1 L583.7,40.8 L585.5,41.3 L587.3,41.5 L589.1,41.5 L590.9,41.8 L592.7,43.9 L594.5,43.3 L596.3,44.1 L598.1,46.6 L599.9,46.8 L601.7,46.8 L603.5,47.0 L605.3,47.1 L607.1,48.0 L608.9,47.8 L610.7,47.4 L612.5,48.1 L614.3,48.9 L616.1,47.9 L617.9,48.3 L619.7,49.0 L621.5,49.9 L623.3,49.0 L625.1,48.8 L626.9,49.9 L628.7,48.0 L630.5,48.1 L632.3,48.9 L634.1,48.9 L635.9,48.4 L637.7,46.4 L639.5,48.2 L641.3,48.0 L643.1,47.4 L644.9,47.5 L646.7,47.7 L648.5,46.5 L650.3,45.6 L652.1,44.4 L653.9,45.1 L655.7,44.2 L657.5,43.9 L659.3,43.1 L661.1,43.5 L662.9,43.3 L664.7,42.7 L666.5,41.3 L668.3,42.0 L670.1,41.3 L671.9,39.3 L673.7,40.8 L675.5,39.0 L675.6,39.4" fill="none" stroke="#fca64c" stroke-width="1.45" stroke-linejoin="round" clip-path="url(#bm)"/>
<path d="M381.7,182.2 L383.5,182.3 L385.3,182.0 L387.1,182.0 L388.9,182.0 L390.7,181.7 L392.5,181.7 L394.3,181.5 L396.1,181.4 L397.9,180.8 L399.7,180.5 L401.5,180.1 L403.3,180.1 L405.1,179.7 L406.9,178.4 L408.7,179.2 L410.5,178.7 L412.3,178.3 L414.1,177.0 L415.9,176.7 L417.7,175.7 L419.5,174.5 L421.3,172.4 L423.1,169.3 L424.9,165.7 L426.7,160.7 L428.5,153.8 L430.3,146.9 L432.1,140.3 L433.9,132.6 L435.7,127.5 L437.5,123.5 L439.3,119.1 L441.1,116.4 L442.9,114.9 L444.7,113.8 L446.5,112.6 L448.3,110.6 L450.1,110.4 L451.9,110.8 L453.7,110.6 L455.5,111.3 L457.3,109.9 L459.1,109.2 L460.9,109.6 L462.7,107.4 L464.5,105.2 L466.3,103.7 L468.1,101.3 L469.9,99.7 L471.7,97.3 L473.5,94.2 L475.3,92.5 L477.1,90.3 L478.9,89.3 L480.7,87.5 L482.5,85.2 L484.3,81.9 L486.1,79.3 L487.9,76.3 L489.7,73.6 L491.5,70.9 L493.3,67.3 L495.1,65.2 L496.9,63.1 L498.7,60.4 L500.5,56.7 L502.3,53.5 L504.1,50.9 L505.9,48.6 L507.7,44.0 L509.5,41.9 L511.3,40.5 L513.1,39.8 L514.9,38.0 L516.7,38.0 L518.5,36.7 L520.3,37.2 L522.1,38.8 L523.9,37.1 L525.7,38.5 L527.5,38.1 L529.3,39.2 L531.1,40.7 L532.9,41.2 L534.7,41.1 L536.5,39.8 L538.3,41.6 L540.1,41.7 L541.9,41.7 L543.7,41.3 L545.5,43.8 L547.3,44.9 L549.1,43.6 L550.9,43.0 L552.7,40.9 L554.5,41.1 L556.3,40.4 L558.1,39.8 L559.9,39.8 L561.7,39.0 L563.5,38.7 L565.3,38.7 L567.1,38.2 L568.9,38.0 L570.7,38.2 L572.5,37.8 L574.3,39.3 L576.1,38.6 L577.9,40.2 L579.7,39.7 L581.5,39.7 L583.3,41.3 L585.1,42.8 L586.9,43.0 L588.7,43.2 L590.5,43.8 L592.3,45.1 L594.1,45.8 L595.9,46.9 L597.7,47.3 L599.5,48.5 L601.3,48.6 L603.1,48.3 L604.9,48.4 L606.7,49.0 L608.5,49.9 L610.3,49.4 L612.1,50.6 L613.9,49.4 L615.7,50.7 L617.5,49.9 L619.3,50.7 L621.1,50.6 L622.9,50.4 L624.7,49.7 L626.5,49.8 L628.3,49.8 L630.1,50.7 L631.9,49.6 L633.7,50.2 L635.5,50.3 L637.3,49.1 L639.1,49.1 L640.9,47.9 L642.7,48.7 L644.5,49.2 L646.3,47.9 L648.1,48.3 L649.9,48.1 L651.7,47.4 L653.5,46.5 L655.3,46.4 L657.1,45.4 L658.9,45.2 L660.7,46.4 L662.5,44.2 L664.3,43.6 L666.1,43.7 L667.9,43.3 L669.7,43.2 L671.5,41.9 L673.3,41.4 L675.1,41.2 L675.3,42.2" fill="none" stroke="#e94b56" stroke-width="1.45" stroke-linejoin="round" clip-path="url(#bm)"/>
<path d="M381.4,181.2 L383.2,181.8 L385.0,181.7 L386.8,181.5 L388.6,181.1 L390.4,181.2 L392.2,180.9 L394.0,181.0 L395.8,180.7 L397.6,180.7 L399.4,180.2 L401.2,179.9 L403.0,179.5 L404.8,179.4 L406.6,179.0 L408.4,178.8 L410.2,178.4 L412.0,177.7 L413.8,176.9 L415.6,176.0 L417.4,175.2 L419.2,174.1 L421.0,172.0 L422.8,169.4 L424.6,165.2 L426.4,160.0 L428.2,154.0 L430.0,146.9 L431.8,139.4 L433.6,132.7 L435.4,126.4 L437.2,122.3 L439.0,119.5 L440.8,115.8 L442.6,114.2 L444.4,113.1 L446.2,111.8 L448.0,110.1 L449.8,111.0 L451.6,110.0 L453.4,110.2 L455.2,109.9 L457.0,109.7 L458.8,108.4 L460.6,109.1 L462.4,106.8 L464.2,106.3 L466.0,104.2 L467.8,101.2 L469.6,98.2 L471.4,95.4 L473.2,93.6 L475.0,92.2 L476.8,90.3 L478.6,87.6 L480.4,85.6 L482.2,85.2 L484.0,81.3 L485.8,78.0 L487.6,76.5 L489.4,72.9 L491.2,69.4 L493.0,68.2 L494.8,64.8 L496.6,62.4 L498.4,60.5 L500.2,56.5 L502.0,52.8 L503.8,51.2 L505.6,46.0 L507.4,44.0 L509.2,43.5 L511.0,41.9 L512.8,39.6 L514.6,38.3 L516.4,38.2 L518.2,37.6 L520.0,37.2 L521.8,36.9 L523.6,36.8 L525.4,37.8 L527.2,38.8 L529.0,39.7 L530.8,40.1 L532.6,40.9 L534.4,40.2 L536.2,41.9 L538.0,42.2 L539.8,41.3 L541.6,41.3 L543.4,43.0 L545.2,43.9 L547.0,44.0 L548.8,44.2 L550.6,42.1 L552.4,40.9 L554.2,42.1 L556.0,40.8 L557.8,40.5 L559.6,38.9 L561.4,39.6 L563.2,39.0 L565.0,39.0 L566.8,39.1 L568.6,38.6 L570.4,37.8 L572.2,39.5 L574.0,39.6 L575.8,40.3 L577.6,40.4 L579.4,41.0 L581.2,40.5 L583.0,40.9 L584.8,42.0 L586.6,42.6 L588.4,43.9 L590.2,42.4 L592.0,44.8 L593.8,45.4 L595.6,47.4 L597.4,47.1 L599.2,47.8 L601.0,48.7 L602.8,49.2 L604.6,48.1 L606.4,48.8 L608.2,50.2 L610.0,50.3 L611.8,50.3 L613.6,51.5 L615.4,49.7 L617.2,50.8 L619.0,50.4 L620.8,50.9 L622.6,50.3 L624.4,50.8 L626.2,52.1 L628.0,50.8 L629.8,50.5 L631.6,51.2 L633.4,50.5 L635.2,51.3 L637.0,49.3 L638.8,49.0 L640.6,48.2 L642.4,48.7 L644.2,47.9 L646.0,49.6 L647.8,48.4 L649.6,48.2 L651.4,47.6 L653.2,47.0 L655.0,46.4 L656.8,45.2 L658.6,46.6 L660.4,45.0 L662.2,45.9 L664.0,44.8 L665.8,43.1 L667.6,43.2 L669.4,42.8 L671.2,42.3 L673.0,41.9 L674.8,42.0 L675.0,41.6" fill="none" stroke="#3d91cf" stroke-width="1.45" stroke-linejoin="round" clip-path="url(#bm)"/>
<clipPath id="bh"><rect x="499.8" y="21.0" width="74.19999999999999" height="29.6"/></clipPath>
<path d="M381.4,182.2 L383.2,181.7 L385.0,181.5 L386.8,181.0 L388.6,181.3 L390.4,181.1 L392.2,181.0 L394.0,181.0 L395.8,180.8 L397.6,180.4 L399.4,180.3 L401.2,180.3 L403.0,180.3 L404.8,180.2 L406.6,179.7 L408.4,179.5 L410.2,179.4 L412.0,179.0 L413.8,177.9 L415.6,177.1 L417.4,176.7 L419.2,175.7 L421.0,175.0 L422.8,174.2 L424.6,172.9 L426.4,171.0 L428.2,168.4 L430.0,164.7 L431.8,161.1 L433.6,156.0 L435.4,150.5 L437.2,143.5 L439.0,135.7 L440.8,127.1 L442.6,119.8 L444.4,114.5 L446.2,111.5 L448.0,111.0 L449.8,108.8 L451.6,111.3 L453.4,110.9 L455.2,110.9 L457.0,112.6 L458.8,113.5 L460.6,114.3 L462.4,111.9 L464.2,111.5 L466.0,109.7 L467.8,106.4 L469.6,104.6 L471.4,103.6 L473.2,101.5 L475.0,99.4 L476.8,96.4 L478.6,93.2 L480.4,89.7 L482.2,87.5 L484.0,83.2 L485.8,81.0 L487.6,78.6 L489.4,74.1 L491.2,73.3 L493.0,68.7 L494.8,66.1 L496.6,64.5 L498.4,59.0 L500.2,55.8 L502.0,53.8 L503.8,48.0 L505.6,44.6 L507.4,41.8 L509.2,39.1 L511.0,37.1 L512.8,34.9 L514.6,33.8 L516.4,31.7 L518.2,29.7 L520.0,27.3 L521.8,26.2 L523.6,24.5 L525.4,25.7 L527.2,23.3 L529.0,24.8 L530.8,25.3 L532.6,24.4 L534.4,24.0 L536.2,24.8 L538.0,26.5 L539.8,25.8 L541.6,26.9 L543.4,26.4 L545.2,27.8 L547.0,29.8 L548.8,29.1 L550.6,31.0 L552.4,32.4 L554.2,33.9 L556.0,33.0 L557.8,35.3 L559.6,35.3 L561.4,36.1 L563.2,35.9 L565.0,35.1 L566.8,36.1 L568.6,37.5 L570.4,37.4 L572.2,37.8 L574.0,39.8 L575.8,41.1 L577.6,39.5 L579.4,41.2 L581.2,38.7 L583.0,38.9 L584.8,41.2 L586.6,40.3 L588.4,40.8 L590.2,40.6 L592.0,40.2 L593.8,41.1 L595.6,41.2 L597.4,40.4 L599.2,42.1 L601.0,42.3 L602.8,43.8 L604.6,41.8 L606.4,42.9 L608.2,42.5 L610.0,42.5 L611.8,43.6 L613.6,42.5 L615.4,41.9 L617.2,42.7 L619.0,43.6 L620.8,42.8 L622.6,43.7 L624.4,45.2 L626.2,44.6 L628.0,44.0 L629.8,43.7 L631.6,44.1 L633.4,43.2 L635.2,45.3 L637.0,45.1 L638.8,45.1 L640.6,44.0 L642.4,44.5 L644.2,45.4 L646.0,45.2 L647.8,44.6 L649.6,45.4 L651.4,45.7 L653.2,44.5 L655.0,44.8 L656.8,44.7 L658.6,44.7 L660.4,46.4 L662.2,46.3 L664.0,46.2 L665.8,45.0 L667.6,45.1 L669.4,46.1 L671.2,46.6 L673.0,47.9 L674.8,48.0 L675.0,49.3" fill="none" stroke="#2f3437" stroke-width="1.45" stroke-linejoin="round" clip-path="url(#bh)"/>
<path d="M382.1,182.5 L383.9,182.3 L385.7,182.3 L387.5,181.8 L389.3,182.1 L391.1,181.6 L392.9,181.7 L394.7,181.5 L396.5,181.2 L398.3,181.6 L400.1,180.7 L401.9,180.6 L403.7,180.4 L405.5,179.8 L407.3,179.9 L409.1,179.3 L410.9,179.0 L412.7,178.1 L414.5,177.4 L416.3,177.0 L418.1,176.1 L419.9,174.6 L421.7,172.6 L423.5,169.8 L425.3,165.7 L427.1,160.3 L428.9,154.0 L430.7,146.7 L432.5,139.3 L434.3,133.1 L436.1,127.3 L437.9,123.0 L439.7,119.6 L441.5,116.7 L443.3,114.9 L445.1,113.8 L446.9,112.1 L448.7,111.3 L450.5,111.1 L452.3,110.6 L454.1,111.2 L455.9,110.7 L457.7,111.1 L459.5,109.8 L461.3,108.5 L463.1,107.3 L464.9,105.9 L466.7,105.3 L468.5,99.8 L470.3,99.8 L472.1,97.4 L473.9,95.6 L475.7,92.2 L477.5,92.1 L479.3,89.3 L481.1,86.4 L482.9,84.2 L484.7,81.3 L486.5,79.4 L488.3,76.7 L490.1,74.7 L491.9,71.6 L493.7,68.6 L495.5,66.3 L497.3,63.3 L499.1,59.6 L500.9,56.1 L502.7,54.5 L504.5,49.7 L506.3,45.9 L508.1,42.9 L509.9,41.0 L511.7,39.9 L513.5,36.8 L515.3,37.7 L517.1,37.1 L518.9,35.3 L520.7,35.2 L522.5,35.0 L524.3,35.5 L526.1,35.6 L527.9,36.3 L529.7,38.0 L531.5,38.9 L533.3,40.2 L535.1,38.8 L536.9,38.2 L538.7,39.7 L540.5,39.6 L542.3,40.5 L544.1,40.7 L545.9,41.0 L547.7,41.9 L549.5,42.2 L551.3,40.7 L553.1,39.1 L554.9,39.9 L556.7,38.3 L558.5,38.5 L560.3,38.5 L562.1,37.1 L563.9,36.8 L565.7,38.1 L567.5,36.8 L569.3,36.4 L571.1,36.2 L572.9,36.3 L574.7,37.1 L576.5,39.9 L578.3,38.2 L580.1,39.9 L581.9,39.1 L583.7,40.8 L585.5,41.3 L587.3,41.5 L589.1,41.5 L590.9,41.8 L592.7,43.9 L594.5,43.3 L596.3,44.1 L598.1,46.6 L599.9,46.8 L601.7,46.8 L603.5,47.0 L605.3,47.1 L607.1,48.0 L608.9,47.8 L610.7,47.4 L612.5,48.1 L614.3,48.9 L616.1,47.9 L617.9,48.3 L619.7,49.0 L621.5,49.9 L623.3,49.0 L625.1,48.8 L626.9,49.9 L628.7,48.0 L630.5,48.1 L632.3,48.9 L634.1,48.9 L635.9,48.4 L637.7,46.4 L639.5,48.2 L641.3,48.0 L643.1,47.4 L644.9,47.5 L646.7,47.7 L648.5,46.5 L650.3,45.6 L652.1,44.4 L653.9,45.1 L655.7,44.2 L657.5,43.9 L659.3,43.1 L661.1,43.5 L662.9,43.3 L664.7,42.7 L666.5,41.3 L668.3,42.0 L670.1,41.3 L671.9,39.3 L673.7,40.8 L675.5,39.0 L675.6,39.4" fill="none" stroke="#ce9448" stroke-width="1.45" stroke-linejoin="round" clip-path="url(#bh)"/>
<path d="M381.7,182.2 L383.5,182.3 L385.3,182.0 L387.1,182.0 L388.9,182.0 L390.7,181.7 L392.5,181.7 L394.3,181.5 L396.1,181.4 L397.9,180.8 L399.7,180.5 L401.5,180.1 L403.3,180.1 L405.1,179.7 L406.9,178.4 L408.7,179.2 L410.5,178.7 L412.3,178.3 L414.1,177.0 L415.9,176.7 L417.7,175.7 L419.5,174.5 L421.3,172.4 L423.1,169.3 L424.9,165.7 L426.7,160.7 L428.5,153.8 L430.3,146.9 L432.1,140.3 L433.9,132.6 L435.7,127.5 L437.5,123.5 L439.3,119.1 L441.1,116.4 L442.9,114.9 L444.7,113.8 L446.5,112.6 L448.3,110.6 L450.1,110.4 L451.9,110.8 L453.7,110.6 L455.5,111.3 L457.3,109.9 L459.1,109.2 L460.9,109.6 L462.7,107.4 L464.5,105.2 L466.3,103.7 L468.1,101.3 L469.9,99.7 L471.7,97.3 L473.5,94.2 L475.3,92.5 L477.1,90.3 L478.9,89.3 L480.7,87.5 L482.5,85.2 L484.3,81.9 L486.1,79.3 L487.9,76.3 L489.7,73.6 L491.5,70.9 L493.3,67.3 L495.1,65.2 L496.9,63.1 L498.7,60.4 L500.5,56.7 L502.3,53.5 L504.1,50.9 L505.9,48.6 L507.7,44.0 L509.5,41.9 L511.3,40.5 L513.1,39.8 L514.9,38.0 L516.7,38.0 L518.5,36.7 L520.3,37.2 L522.1,38.8 L523.9,37.1 L525.7,38.5 L527.5,38.1 L529.3,39.2 L531.1,40.7 L532.9,41.2 L534.7,41.1 L536.5,39.8 L538.3,41.6 L540.1,41.7 L541.9,41.7 L543.7,41.3 L545.5,43.8 L547.3,44.9 L549.1,43.6 L550.9,43.0 L552.7,40.9 L554.5,41.1 L556.3,40.4 L558.1,39.8 L559.9,39.8 L561.7,39.0 L563.5,38.7 L565.3,38.7 L567.1,38.2 L568.9,38.0 L570.7,38.2 L572.5,37.8 L574.3,39.3 L576.1,38.6 L577.9,40.2 L579.7,39.7 L581.5,39.7 L583.3,41.3 L585.1,42.8 L586.9,43.0 L588.7,43.2 L590.5,43.8 L592.3,45.1 L594.1,45.8 L595.9,46.9 L597.7,47.3 L599.5,48.5 L601.3,48.6 L603.1,48.3 L604.9,48.4 L606.7,49.0 L608.5,49.9 L610.3,49.4 L612.1,50.6 L613.9,49.4 L615.7,50.7 L617.5,49.9 L619.3,50.7 L621.1,50.6 L622.9,50.4 L624.7,49.7 L626.5,49.8 L628.3,49.8 L630.1,50.7 L631.9,49.6 L633.7,50.2 L635.5,50.3 L637.3,49.1 L639.1,49.1 L640.9,47.9 L642.7,48.7 L644.5,49.2 L646.3,47.9 L648.1,48.3 L649.9,48.1 L651.7,47.4 L653.5,46.5 L655.3,46.4 L657.1,45.4 L658.9,45.2 L660.7,46.4 L662.5,44.2 L664.3,43.6 L666.1,43.7 L667.9,43.3 L669.7,43.2 L671.5,41.9 L673.3,41.4 L675.1,41.2 L675.3,42.2" fill="none" stroke="#be4351" stroke-width="1.45" stroke-linejoin="round" clip-path="url(#bh)"/>
<path d="M381.4,181.2 L383.2,181.8 L385.0,181.7 L386.8,181.5 L388.6,181.1 L390.4,181.2 L392.2,180.9 L394.0,181.0 L395.8,180.7 L397.6,180.7 L399.4,180.2 L401.2,179.9 L403.0,179.5 L404.8,179.4 L406.6,179.0 L408.4,178.8 L410.2,178.4 L412.0,177.7 L413.8,176.9 L415.6,176.0 L417.4,175.2 L419.2,174.1 L421.0,172.0 L422.8,169.4 L424.6,165.2 L426.4,160.0 L428.2,154.0 L430.0,146.9 L431.8,139.4 L433.6,132.7 L435.4,126.4 L437.2,122.3 L439.0,119.5 L440.8,115.8 L442.6,114.2 L444.4,113.1 L446.2,111.8 L448.0,110.1 L449.8,111.0 L451.6,110.0 L453.4,110.2 L455.2,109.9 L457.0,109.7 L458.8,108.4 L460.6,109.1 L462.4,106.8 L464.2,106.3 L466.0,104.2 L467.8,101.2 L469.6,98.2 L471.4,95.4 L473.2,93.6 L475.0,92.2 L476.8,90.3 L478.6,87.6 L480.4,85.6 L482.2,85.2 L484.0,81.3 L485.8,78.0 L487.6,76.5 L489.4,72.9 L491.2,69.4 L493.0,68.2 L494.8,64.8 L496.6,62.4 L498.4,60.5 L500.2,56.5 L502.0,52.8 L503.8,51.2 L505.6,46.0 L507.4,44.0 L509.2,43.5 L511.0,41.9 L512.8,39.6 L514.6,38.3 L516.4,38.2 L518.2,37.6 L520.0,37.2 L521.8,36.9 L523.6,36.8 L525.4,37.8 L527.2,38.8 L529.0,39.7 L530.8,40.1 L532.6,40.9 L534.4,40.2 L536.2,41.9 L538.0,42.2 L539.8,41.3 L541.6,41.3 L543.4,43.0 L545.2,43.9 L547.0,44.0 L548.8,44.2 L550.6,42.1 L552.4,40.9 L554.2,42.1 L556.0,40.8 L557.8,40.5 L559.6,38.9 L561.4,39.6 L563.2,39.0 L565.0,39.0 L566.8,39.1 L568.6,38.6 L570.4,37.8 L572.2,39.5 L574.0,39.6 L575.8,40.3 L577.6,40.4 L579.4,41.0 L581.2,40.5 L583.0,40.9 L584.8,42.0 L586.6,42.6 L588.4,43.9 L590.2,42.4 L592.0,44.8 L593.8,45.4 L595.6,47.4 L597.4,47.1 L599.2,47.8 L601.0,48.7 L602.8,49.2 L604.6,48.1 L606.4,48.8 L608.2,50.2 L610.0,50.3 L611.8,50.3 L613.6,51.5 L615.4,49.7 L617.2,50.8 L619.0,50.4 L620.8,50.9 L622.6,50.3 L624.4,50.8 L626.2,52.1 L628.0,50.8 L629.8,50.5 L631.6,51.2 L633.4,50.5 L635.2,51.3 L637.0,49.3 L638.8,49.0 L640.6,48.2 L642.4,48.7 L644.2,47.9 L646.0,49.6 L647.8,48.4 L649.6,48.2 L651.4,47.6 L653.2,47.0 L655.0,46.4 L656.8,45.2 L658.6,46.6 L660.4,45.0 L662.2,45.9 L664.0,44.8 L665.8,43.1 L667.6,43.2 L669.4,42.8 L671.2,42.3 L673.0,41.9 L674.8,42.0 L675.0,41.6" fill="none" stroke="#3282c3" stroke-width="1.45" stroke-linejoin="round" clip-path="url(#bh)"/>
<rect x="499.8" y="21.0" width="74.19999999999999" height="29.6" fill="none" stroke="#9aa8b4" stroke-width="0.6" stroke-dasharray="2,1.5"/>
<line x1="574.3" y1="50.6" x2="574.3" y2="56.4" stroke="#a0a0a0" stroke-width="0.8"/>
<path d="M572.5,56.0 L576.0999999999999,56.0 L574.3,59.4 Z" fill="#555555"/>
<rect x="510.5" y="61.0" width="150.60000000000002" height="112.9" fill="#fff" stroke="#8a8a8a" stroke-width="0.9"/>
<clipPath id="bi"><rect x="510.5" y="61.0" width="150.60000000000002" height="112.9"/></clipPath>
<path d="M510.4,158.8 L512.7,158.2 L515.0,155.9 L517.3,153.7 L519.6,152.9 L521.9,148.1 L524.2,146.5 L526.5,144.1 L528.8,142.0 L531.1,138.8 L533.4,135.9 L535.7,133.3 L538.0,130.2 L540.3,126.4 L542.6,121.7 L544.9,119.7 L547.2,115.5 L549.5,113.6 L551.8,108.1 L554.1,102.0 L556.4,96.5 L558.7,90.8 L561.0,87.9 L563.3,83.7 L565.6,80.8 L567.9,79.4 L570.2,78.9 L572.5,80.7 L574.8,79.7 L577.1,78.1 L579.4,73.5 L581.7,72.7 L584.0,71.9 L586.3,70.9 L588.6,72.5 L590.9,71.9 L593.2,72.8 L595.5,72.9 L597.8,73.3 L600.1,77.1 L602.4,76.2 L604.7,74.9 L607.0,77.6 L609.3,76.2 L611.6,77.7 L613.9,81.0 L616.2,80.2 L618.5,81.9 L620.8,82.7 L623.1,85.4 L625.4,86.2 L627.7,84.7 L630.0,86.6 L632.3,83.4 L634.6,84.9 L636.9,87.0 L639.2,86.0 L641.5,87.2 L643.8,87.8 L646.1,89.0 L648.4,89.3 L650.7,88.2 L653.0,89.8 L655.3,89.8 L657.6,91.6 L659.9,89.5 L661.2,90.7" fill="none" stroke="#3a3a3a" stroke-width="1.5" stroke-linejoin="round" clip-path="url(#bi)"/>
<path d="M511.1,155.6 L513.4,152.9 L515.7,152.0 L518.0,150.8 L520.3,147.7 L522.6,146.0 L524.9,143.5 L527.2,142.3 L529.5,138.7 L531.8,136.8 L534.1,133.3 L536.4,131.5 L538.7,127.3 L541.0,124.0 L543.3,121.4 L545.6,120.0 L547.9,114.7 L550.2,110.3 L552.5,107.3 L554.8,107.1 L557.1,101.7 L559.4,99.0 L561.7,97.0 L564.0,95.9 L566.3,93.1 L568.6,91.1 L570.9,88.8 L573.2,86.6 L575.5,86.2 L577.8,85.3 L580.1,85.1 L582.4,84.4 L584.7,88.3 L587.0,88.8 L589.3,89.1 L591.6,89.5 L593.9,89.7 L596.2,89.0 L598.5,89.1 L600.8,89.8 L603.1,90.2 L605.4,90.5 L607.7,90.1 L610.0,92.6 L612.3,92.4 L614.6,92.7 L616.9,92.3 L619.2,89.8 L621.5,90.2 L623.8,89.1 L626.1,88.9 L628.4,90.0 L630.7,89.5 L633.0,88.3 L635.3,88.5 L637.6,87.8 L639.9,86.6 L642.2,86.3 L644.5,86.1 L646.8,88.6 L649.1,87.1 L651.4,88.2 L653.7,88.9 L656.0,88.9 L658.3,91.6 L660.6,91.2 L661.8,89.1" fill="none" stroke="#fca64c" stroke-width="1.5" stroke-linejoin="round" clip-path="url(#bi)"/>
<path d="M510.7,155.5 L513.0,152.4 L515.3,152.8 L517.6,151.5 L519.9,149.4 L522.2,147.9 L524.5,144.0 L526.8,141.4 L529.1,139.3 L531.4,136.1 L533.7,135.6 L536.0,131.8 L538.3,126.3 L540.6,124.6 L542.9,122.0 L545.2,116.7 L547.5,115.8 L549.8,110.9 L552.1,107.1 L554.4,104.5 L556.7,100.8 L559.0,99.8 L561.3,97.0 L563.6,94.0 L565.9,92.0 L568.2,91.3 L570.5,88.8 L572.8,88.8 L575.1,87.0 L577.4,87.5 L579.7,88.2 L582.0,87.9 L584.3,88.9 L586.6,89.8 L588.9,91.3 L591.2,91.4 L593.5,91.6 L595.8,91.9 L598.1,90.7 L600.4,90.2 L602.7,91.3 L605.0,95.6 L607.3,93.4 L609.6,93.1 L611.9,94.0 L614.2,93.1 L616.5,93.0 L618.8,92.5 L621.1,90.6 L623.4,90.1 L625.7,91.2 L628.0,89.1 L630.3,89.9 L632.6,89.0 L634.9,89.6 L637.2,89.5 L639.5,87.9 L641.8,89.1 L644.1,87.7 L646.4,88.2 L648.7,89.3 L651.0,90.2 L653.3,90.0 L655.6,88.7 L657.9,91.1 L660.2,92.6 L661.5,93.1" fill="none" stroke="#e94b56" stroke-width="1.5" stroke-linejoin="round" clip-path="url(#bi)"/>
<path d="M510.4,154.9 L512.7,155.5 L515.0,151.8 L517.3,150.3 L519.6,148.5 L521.9,146.5 L524.2,144.5 L526.5,141.6 L528.8,138.4 L531.1,135.5 L533.4,134.0 L535.7,130.8 L538.0,127.9 L540.3,123.4 L542.6,120.3 L544.9,118.9 L547.2,114.8 L549.5,111.4 L551.8,109.3 L554.1,104.1 L556.4,101.7 L558.7,98.0 L561.0,95.2 L563.3,92.9 L565.6,93.1 L567.9,90.7 L570.2,88.8 L572.5,89.1 L574.8,88.7 L577.1,88.6 L579.4,89.8 L581.7,89.3 L584.0,88.4 L586.3,89.9 L588.6,91.3 L590.9,90.5 L593.2,92.0 L595.5,92.6 L597.8,90.5 L600.1,92.4 L602.4,93.6 L604.7,93.7 L607.0,93.9 L609.3,93.9 L611.6,95.6 L613.9,93.3 L616.2,91.4 L618.5,91.8 L620.8,91.8 L623.1,91.4 L625.4,90.3 L627.7,90.3 L630.0,89.9 L632.3,90.5 L634.6,88.6 L636.9,89.1 L639.2,87.5 L641.5,87.5 L643.8,88.9 L646.1,88.8 L648.4,90.6 L650.7,90.5 L653.0,91.4 L655.3,92.6 L657.6,91.6 L659.9,90.9 L661.2,91.6" fill="none" stroke="#3d91cf" stroke-width="1.5" stroke-linejoin="round" clip-path="url(#bi)"/>
<line x1="510.50" y1="173.9" x2="510.50" y2="175.5" stroke="#6d6e71" stroke-width="0.7"/>
<text x="510.50" y="183.00" font-size="6" text-anchor="middle" textLength="15.6" lengthAdjust="spacingAndGlyphs" fill="#231f20">8,985</text>
<line x1="548.15" y1="173.9" x2="548.15" y2="175.5" stroke="#6d6e71" stroke-width="0.7"/>
<text x="548.15" y="183.00" font-size="6" text-anchor="middle" textLength="15.6" lengthAdjust="spacingAndGlyphs" fill="#231f20">8,990</text>
<line x1="585.80" y1="173.9" x2="585.80" y2="175.5" stroke="#6d6e71" stroke-width="0.7"/>
<text x="585.80" y="183.00" font-size="6" text-anchor="middle" textLength="15.6" lengthAdjust="spacingAndGlyphs" fill="#231f20">8,995</text>
<line x1="623.45" y1="173.9" x2="623.45" y2="175.5" stroke="#6d6e71" stroke-width="0.7"/>
<text x="623.45" y="183.00" font-size="6" text-anchor="middle" textLength="15.6" lengthAdjust="spacingAndGlyphs" fill="#231f20">9,000</text>
<line x1="661.10" y1="173.9" x2="661.10" y2="175.5" stroke="#6d6e71" stroke-width="0.7"/>
<text x="661.10" y="183.00" font-size="6" text-anchor="middle" textLength="15.6" lengthAdjust="spacingAndGlyphs" fill="#231f20">9,005</text>
<text x="568.00" y="190.50" font-size="7" textLength="38.89999999999998" lengthAdjust="spacingAndGlyphs" fill="#231f20">Energy (eV)</text>
<text transform="translate(506.3,139.70) rotate(-90)" x="0" y="0" font-size="6.5" fill="#231f20" textLength="54.3" lengthAdjust="spacingAndGlyphs">Normalized <tspan font-style="italic">μ</tspan>(<tspan font-style="italic">E</tspan>)</text>
<path d="M33.5,230.5 L330.5,230.5 L330.5,416.5 L33.5,416.5 Z" fill="none" stroke="#6d6e71" stroke-width="1"/>
<line x1="33.5" y1="407.40" x2="35.9" y2="407.40" stroke="#555" stroke-width="0.9"/>
<text x="28.70" y="410.10" font-size="8.6" text-anchor="end" textLength="3.9" lengthAdjust="spacingAndGlyphs" fill="#231f20" class="tk">0</text>
<line x1="33.5" y1="377.92" x2="35.9" y2="377.92" stroke="#555" stroke-width="0.9"/>
<text x="28.70" y="380.62" font-size="8.6" text-anchor="end" textLength="10.4" lengthAdjust="spacingAndGlyphs" fill="#231f20" class="tk">0.2</text>
<line x1="33.5" y1="348.43" x2="35.9" y2="348.43" stroke="#555" stroke-width="0.9"/>
<text x="28.70" y="351.13" font-size="8.6" text-anchor="end" textLength="10.4" lengthAdjust="spacingAndGlyphs" fill="#231f20" class="tk">0.4</text>
<line x1="33.5" y1="318.95" x2="35.9" y2="318.95" stroke="#555" stroke-width="0.9"/>
<text x="28.70" y="321.65" font-size="8.6" text-anchor="end" textLength="10.4" lengthAdjust="spacingAndGlyphs" fill="#231f20" class="tk">0.6</text>
<line x1="33.5" y1="289.47" x2="35.9" y2="289.47" stroke="#555" stroke-width="0.9"/>
<text x="28.70" y="292.17" font-size="8.6" text-anchor="end" textLength="10.4" lengthAdjust="spacingAndGlyphs" fill="#231f20" class="tk">0.8</text>
<line x1="33.5" y1="259.98" x2="35.9" y2="259.98" stroke="#555" stroke-width="0.9"/>
<text x="28.70" y="262.68" font-size="8.6" text-anchor="end" textLength="9.4" lengthAdjust="spacingAndGlyphs" fill="#231f20" class="tk">1.0</text>
<text x="28.70" y="233.20" font-size="8.6" text-anchor="end" textLength="8.6" lengthAdjust="spacingAndGlyphs" fill="#231f20" class="tk">1.2</text>
<line x1="33.50" y1="416.5" x2="33.50" y2="419.3" stroke="#555" stroke-width="1"/>
<text x="33.50" y="428.60" font-size="8.6" text-anchor="middle" textLength="19.2" lengthAdjust="spacingAndGlyphs" fill="#231f20" class="tk">8,970</text>
<line x1="92.90" y1="416.5" x2="92.90" y2="419.3" stroke="#555" stroke-width="1"/>
<text x="92.90" y="428.60" font-size="8.6" text-anchor="middle" textLength="19.2" lengthAdjust="spacingAndGlyphs" fill="#231f20" class="tk">8,980</text>
<line x1="152.30" y1="416.5" x2="152.30" y2="419.3" stroke="#555" stroke-width="1"/>
<text x="152.30" y="428.60" font-size="8.6" text-anchor="middle" textLength="19.2" lengthAdjust="spacingAndGlyphs" fill="#231f20" class="tk">8,990</text>
<line x1="211.70" y1="416.5" x2="211.70" y2="419.3" stroke="#555" stroke-width="1"/>
<text x="211.70" y="428.60" font-size="8.6" text-anchor="middle" textLength="19.2" lengthAdjust="spacingAndGlyphs" fill="#231f20" class="tk">9,000</text>
<line x1="271.10" y1="416.5" x2="271.10" y2="419.3" stroke="#555" stroke-width="1"/>
<text x="271.10" y="428.60" font-size="8.6" text-anchor="middle" textLength="19.2" lengthAdjust="spacingAndGlyphs" fill="#231f20" class="tk">9,010</text>
<line x1="330.50" y1="416.5" x2="330.50" y2="419.3" stroke="#555" stroke-width="1"/>
<text x="330.50" y="428.60" font-size="8.6" text-anchor="middle" textLength="19.2" lengthAdjust="spacingAndGlyphs" fill="#231f20" class="tk">9,020</text>
<text x="158.80" y="443.80" font-size="8.4" textLength="46.5" lengthAdjust="spacingAndGlyphs" fill="#231f20">Energy (eV)</text>
<text transform="translate(6.6,355.50) rotate(-90)" x="0" y="0" font-size="8" fill="#231f20" textLength="60.9" lengthAdjust="spacingAndGlyphs">Normalized <tspan font-style="italic">μ</tspan>(<tspan font-style="italic">E</tspan>)</text>
<text x="-0.30" y="237.00" font-size="13" font-weight="bold" fill="#000">c</text>
<line x1="42.0" y1="239.8" x2="49.9" y2="239.8" stroke="#bdbdbd" stroke-width="1.15"/>
<text x="53.7" y="242.30" font-size="7.3" fill="#231f20" textLength="64.3" lengthAdjust="spacingAndGlyphs">2nd H<tspan font-size="4.6" dy="2.8">2</tspan><tspan dy="-2.8"> cycle 9 min</tspan></text>
<line x1="42.0" y1="252.6" x2="49.9" y2="252.6" stroke="#9cd3ee" stroke-width="1.15"/>
<text x="53.7" y="255.10" font-size="7.3" fill="#231f20" textLength="68.8" lengthAdjust="spacingAndGlyphs">3rd CO<tspan font-size="4.6" dy="2.8">2</tspan><tspan dy="-2.8"> cycle 3 min</tspan></text>
<line x1="42.0" y1="265.3" x2="49.9" y2="265.3" stroke="#1414ff" stroke-width="1.15"/>
<text x="53.7" y="267.80" font-size="7.3" fill="#231f20" textLength="68.8" lengthAdjust="spacingAndGlyphs">3rd CO<tspan font-size="4.6" dy="2.8">2</tspan><tspan dy="-2.8"> cycle 6 min</tspan></text>
<line x1="42.0" y1="277.9" x2="49.9" y2="277.9" stroke="#15304f" stroke-width="1.15"/>
<text x="53.7" y="280.40" font-size="7.3" fill="#231f20" textLength="68.8" lengthAdjust="spacingAndGlyphs">3rd CO<tspan font-size="4.6" dy="2.8">2</tspan><tspan dy="-2.8"> cycle 9 min</tspan></text>
<text x="240.10" y="242.00" font-size="7.3" textLength="47.8" lengthAdjust="spacingAndGlyphs" fill="#231f20">2Cu oxidation</text>
<text x="240.10" y="254.10" font-size="7.3" textLength="35.6" lengthAdjust="spacingAndGlyphs" fill="#231f20">Cu XANES</text>
<rect x="156.5" y="240.4" width="75.0" height="29.799999999999983" fill="#f9eed2"/>
<clipPath id="cm"><rect x="33.5" y="230.5" width="297.0" height="186.0"/></clipPath>
<path d="M33.4,406.6 L35.2,406.2 L37.0,406.1 L38.8,405.5 L40.6,405.5 L42.4,404.8 L44.2,404.8 L46.0,404.5 L47.8,404.4 L49.6,404.0 L51.4,403.6 L53.2,403.6 L55.0,403.4 L56.8,402.7 L58.6,402.7 L60.4,402.6 L62.2,402.0 L64.0,401.8 L65.8,401.2 L67.6,401.2 L69.4,400.5 L71.2,399.6 L73.0,398.3 L74.8,396.3 L76.6,394.0 L78.4,392.4 L80.2,386.8 L82.0,382.2 L83.8,376.5 L85.6,371.0 L87.4,365.5 L89.2,360.2 L91.0,355.0 L92.8,351.2 L94.6,349.2 L96.4,346.4 L98.2,341.7 L100.0,338.5 L101.8,334.5 L103.6,331.9 L105.4,330.7 L107.2,330.7 L109.0,331.0 L110.8,333.4 L112.6,333.2 L114.4,331.9 L116.2,331.1 L118.0,328.4 L119.8,328.5 L121.6,325.8 L123.4,325.3 L125.2,324.7 L127.0,322.6 L128.8,320.5 L130.6,317.5 L132.4,317.0 L134.2,314.5 L136.0,313.1 L137.8,309.5 L139.6,308.1 L141.4,304.4 L143.2,301.8 L145.0,298.1 L146.8,295.1 L148.6,291.9 L150.4,289.6 L152.2,285.4 L154.0,282.2 L155.8,279.6 L157.6,275.8 L159.4,272.2 L161.2,269.9 L163.0,266.8 L164.8,265.1 L166.6,265.0 L168.4,265.1 L170.2,261.8 L172.0,262.6 L173.8,260.4 L175.6,258.8 L177.4,259.4 L179.2,257.9 L181.0,256.9 L182.8,259.0 L184.6,259.1 L186.4,258.7 L188.2,259.2 L190.0,259.1 L191.8,259.4 L193.6,258.7 L195.4,259.5 L197.2,258.9 L199.0,259.7 L200.8,261.7 L202.6,261.1 L204.4,260.7 L206.2,259.3 L208.0,261.3 L209.8,258.5 L211.6,259.4 L213.4,260.6 L215.2,259.4 L217.0,259.3 L218.8,260.1 L220.6,260.2 L222.4,260.1 L224.2,259.1 L226.0,260.2 L227.8,259.0 L229.6,259.3 L231.4,259.6 L233.2,261.2 L235.0,262.6 L236.8,262.5 L238.6,264.2 L240.4,264.6 L242.2,265.8 L244.0,266.7 L245.8,267.2 L247.6,267.6 L249.4,268.6 L251.2,269.9 L253.0,268.0 L254.8,269.8 L256.6,269.4 L258.4,269.8 L260.2,269.5 L262.0,271.1 L263.8,271.1 L265.6,272.6 L267.4,271.9 L269.2,271.9 L271.0,272.1 L272.8,273.8 L274.6,273.8 L276.4,273.4 L278.2,274.7 L280.0,274.2 L281.8,273.3 L283.6,273.7 L285.4,272.6 L287.2,273.3 L289.0,272.3 L290.8,273.3 L292.6,273.3 L294.4,272.7 L296.2,273.3 L298.0,271.9 L299.8,272.6 L301.6,272.0 L303.4,271.1 L305.2,272.2 L307.0,272.6 L308.8,273.3 L310.6,271.2 L312.4,271.3 L314.2,271.8 L316.0,269.7 L317.8,271.0 L319.6,268.6 L321.4,268.5 L323.2,268.8 L325.0,268.5 L326.8,269.1 L328.6,267.6 L330.4,268.0 L331.0,267.8" fill="none" stroke="#bdbdbd" stroke-width="1.35" stroke-linejoin="round" clip-path="url(#cm)"/>
<path d="M33.4,406.4 L35.2,406.0 L37.0,406.4 L38.8,405.6 L40.6,405.3 L42.4,405.0 L44.2,405.0 L46.0,404.4 L47.8,404.4 L49.6,404.0 L51.4,403.8 L53.2,403.5 L55.0,403.3 L56.8,403.1 L58.6,402.5 L60.4,402.6 L62.2,402.3 L64.0,402.1 L65.8,401.9 L67.6,401.1 L69.4,401.2 L71.2,399.9 L73.0,399.0 L74.8,397.7 L76.6,396.3 L78.4,394.3 L80.2,391.4 L82.0,387.7 L83.8,382.7 L85.6,378.1 L87.4,373.9 L89.2,366.9 L91.0,362.9 L92.8,358.0 L94.6,353.0 L96.4,348.9 L98.2,344.7 L100.0,340.3 L101.8,336.2 L103.6,332.7 L105.4,333.2 L107.2,333.0 L109.0,333.7 L110.8,336.5 L112.6,334.8 L114.4,334.1 L116.2,332.0 L118.0,331.9 L119.8,329.1 L121.6,327.6 L123.4,326.8 L125.2,324.8 L127.0,322.2 L128.8,321.3 L130.6,319.5 L132.4,317.4 L134.2,314.9 L136.0,313.5 L137.8,309.7 L139.6,308.2 L141.4,305.2 L143.2,301.5 L145.0,298.7 L146.8,297.8 L148.6,291.4 L150.4,289.2 L152.2,285.3 L154.0,282.2 L155.8,278.5 L157.6,275.3 L159.4,271.9 L161.2,268.6 L163.0,265.4 L164.8,264.4 L166.6,262.6 L168.4,261.8 L170.2,260.7 L172.0,258.5 L173.8,256.4 L175.6,255.6 L177.4,255.1 L179.2,254.7 L181.0,254.0 L182.8,253.1 L184.6,251.3 L186.4,251.9 L188.2,252.9 L190.0,252.9 L191.8,253.2 L193.6,251.8 L195.4,252.9 L197.2,250.6 L199.0,252.0 L200.8,252.2 L202.6,251.9 L204.4,254.1 L206.2,253.0 L208.0,253.8 L209.8,255.0 L211.6,254.7 L213.4,257.0 L215.2,256.1 L217.0,257.3 L218.8,257.4 L220.6,257.4 L222.4,258.0 L224.2,258.5 L226.0,258.2 L227.8,260.3 L229.6,258.8 L231.4,260.2 L233.2,261.8 L235.0,262.2 L236.8,263.3 L238.6,262.3 L240.4,263.8 L242.2,264.6 L244.0,266.9 L245.8,265.0 L247.6,266.0 L249.4,267.7 L251.2,267.1 L253.0,267.5 L254.8,267.5 L256.6,268.7 L258.4,267.0 L260.2,268.0 L262.0,268.4 L263.8,269.2 L265.6,269.4 L267.4,268.2 L269.2,269.9 L271.0,269.4 L272.8,272.0 L274.6,270.2 L276.4,271.2 L278.2,270.3 L280.0,270.6 L281.8,270.3 L283.6,271.5 L285.4,271.8 L287.2,270.2 L289.0,271.4 L290.8,271.6 L292.6,272.1 L294.4,270.9 L296.2,272.3 L298.0,270.7 L299.8,271.7 L301.6,271.4 L303.4,271.6 L305.2,272.6 L307.0,272.3 L308.8,273.9 L310.6,272.0 L312.4,271.6 L314.2,272.9 L316.0,272.4 L317.8,272.0 L319.6,273.3 L321.4,273.5 L323.2,271.6 L325.0,272.5 L326.8,273.6 L328.6,272.5 L330.4,274.2 L331.0,273.0" fill="none" stroke="#9cd3ee" stroke-width="1.35" stroke-linejoin="round" clip-path="url(#cm)"/>
<path d="M33.4,406.6 L35.2,406.4 L37.0,406.1 L38.8,406.2 L40.6,406.1 L42.4,405.6 L44.2,405.6 L46.0,405.4 L47.8,405.2 L49.6,405.5 L51.4,404.9 L53.2,404.8 L55.0,404.5 L56.8,404.2 L58.6,403.8 L60.4,403.5 L62.2,403.4 L64.0,403.1 L65.8,402.2 L67.6,401.9 L69.4,401.5 L71.2,401.0 L73.0,400.2 L74.8,399.5 L76.6,398.2 L78.4,396.0 L80.2,393.9 L82.0,391.7 L83.8,388.2 L85.6,384.0 L87.4,380.5 L89.2,374.9 L91.0,369.3 L92.8,364.3 L94.6,358.2 L96.4,354.3 L98.2,348.4 L100.0,345.7 L101.8,342.4 L103.6,339.3 L105.4,338.2 L107.2,338.9 L109.0,339.3 L110.8,339.9 L112.6,339.7 L114.4,339.4 L116.2,339.0 L118.0,336.4 L119.8,334.0 L121.6,331.8 L123.4,329.9 L125.2,328.0 L127.0,326.1 L128.8,323.8 L130.6,321.6 L132.4,319.2 L134.2,319.1 L136.0,316.0 L137.8,313.6 L139.6,311.0 L141.4,306.9 L143.2,302.6 L145.0,300.0 L146.8,295.7 L148.6,292.0 L150.4,289.4 L152.2,285.1 L154.0,282.7 L155.8,276.0 L157.6,273.0 L159.4,271.3 L161.2,267.4 L163.0,263.5 L164.8,262.2 L166.6,259.1 L168.4,256.4 L170.2,255.0 L172.0,253.3 L173.8,251.4 L175.6,249.1 L177.4,247.8 L179.2,247.7 L181.0,247.2 L182.8,247.3 L184.6,245.1 L186.4,244.6 L188.2,246.3 L190.0,245.3 L191.8,245.8 L193.6,245.6 L195.4,246.9 L197.2,247.1 L199.0,247.4 L200.8,248.4 L202.6,247.3 L204.4,247.9 L206.2,246.0 L208.0,249.1 L209.8,249.3 L211.6,252.3 L213.4,251.2 L215.2,254.0 L217.0,253.2 L218.8,253.4 L220.6,255.3 L222.4,256.0 L224.2,255.8 L226.0,256.1 L227.8,255.7 L229.6,257.5 L231.4,258.5 L233.2,257.5 L235.0,259.6 L236.8,261.1 L238.6,259.6 L240.4,261.7 L242.2,262.2 L244.0,261.9 L245.8,263.0 L247.6,262.5 L249.4,264.0 L251.2,265.2 L253.0,264.4 L254.8,264.6 L256.6,264.1 L258.4,267.0 L260.2,267.3 L262.0,266.0 L263.8,266.7 L265.6,266.9 L267.4,268.1 L269.2,266.5 L271.0,268.1 L272.8,266.5 L274.6,268.6 L276.4,267.9 L278.2,269.4 L280.0,269.1 L281.8,268.6 L283.6,268.7 L285.4,268.5 L287.2,270.5 L289.0,270.2 L290.8,269.2 L292.6,268.8 L294.4,270.1 L296.2,270.0 L298.0,269.8 L299.8,270.4 L301.6,271.0 L303.4,270.7 L305.2,271.2 L307.0,270.9 L308.8,272.1 L310.6,270.7 L312.4,271.7 L314.2,271.4 L316.0,271.2 L317.8,271.7 L319.6,271.6 L321.4,271.8 L323.2,272.4 L325.0,272.8 L326.8,271.3 L328.6,272.4 L330.4,273.2 L330.7,273.7" fill="none" stroke="#1414ff" stroke-width="1.35" stroke-linejoin="round" clip-path="url(#cm)"/>
<path d="M33.4,406.5 L35.2,406.2 L37.0,406.2 L38.8,405.9 L40.6,405.8 L42.4,405.6 L44.2,405.8 L46.0,405.6 L47.8,405.7 L49.6,405.2 L51.4,405.0 L53.2,405.0 L55.0,404.5 L56.8,404.2 L58.6,403.9 L60.4,403.9 L62.2,403.6 L64.0,403.2 L65.8,402.6 L67.6,402.2 L69.4,401.5 L71.2,401.2 L73.0,400.6 L74.8,399.7 L76.6,398.6 L78.4,397.0 L80.2,394.5 L82.0,392.4 L83.8,388.9 L85.6,385.4 L87.4,380.4 L89.2,375.5 L91.0,370.1 L92.8,363.3 L94.6,359.5 L96.4,353.1 L98.2,349.9 L100.0,346.9 L101.8,343.2 L103.6,341.3 L105.4,341.0 L107.2,340.9 L109.0,340.4 L110.8,343.2 L112.6,343.7 L114.4,342.5 L116.2,341.0 L118.0,339.1 L119.8,335.7 L121.6,334.1 L123.4,333.0 L125.2,330.3 L127.0,328.0 L128.8,325.2 L130.6,323.3 L132.4,322.1 L134.2,320.0 L136.0,317.7 L137.8,314.1 L139.6,311.2 L141.4,306.9 L143.2,303.9 L145.0,301.1 L146.8,294.7 L148.6,293.8 L150.4,289.1 L152.2,284.3 L154.0,280.7 L155.8,277.2 L157.6,274.8 L159.4,271.5 L161.2,269.1 L163.0,264.4 L164.8,261.7 L166.6,259.8 L168.4,258.8 L170.2,256.4 L172.0,254.2 L173.8,251.8 L175.6,251.7 L177.4,247.7 L179.2,247.6 L181.0,247.1 L182.8,247.2 L184.6,245.5 L186.4,246.8 L188.2,245.5 L190.0,244.9 L191.8,245.5 L193.6,246.6 L195.4,246.8 L197.2,247.9 L199.0,247.3 L200.8,248.5 L202.6,249.7 L204.4,248.6 L206.2,249.2 L208.0,249.8 L209.8,249.2 L211.6,252.4 L213.4,252.4 L215.2,253.9 L217.0,254.9 L218.8,255.3 L220.6,255.8 L222.4,256.4 L224.2,257.4 L226.0,257.5 L227.8,258.1 L229.6,259.6 L231.4,258.1 L233.2,260.0 L235.0,260.9 L236.8,260.3 L238.6,260.1 L240.4,263.2 L242.2,262.8 L244.0,263.2 L245.8,263.3 L247.6,263.4 L249.4,263.8 L251.2,264.8 L253.0,265.1 L254.8,265.3 L256.6,265.4 L258.4,266.4 L260.2,265.9 L262.0,265.8 L263.8,266.3 L265.6,266.4 L267.4,268.1 L269.2,267.5 L271.0,268.7 L272.8,268.7 L274.6,269.8 L276.4,269.4 L278.2,269.6 L280.0,268.9 L281.8,268.3 L283.6,270.1 L285.4,270.6 L287.2,269.7 L289.0,269.7 L290.8,269.9 L292.6,269.8 L294.4,271.1 L296.2,270.4 L298.0,271.2 L299.8,271.1 L301.6,270.5 L303.4,272.5 L305.2,271.2 L307.0,271.0 L308.8,272.5 L310.6,272.1 L312.4,271.5 L314.2,271.2 L316.0,271.0 L317.8,271.5 L319.6,272.6 L321.4,271.9 L323.2,273.3 L325.0,272.5 L326.8,273.5 L328.6,272.6 L330.4,273.3 L331.0,273.3" fill="none" stroke="#15304f" stroke-width="1.35" stroke-linejoin="round" clip-path="url(#cm)"/>
<clipPath id="ch"><rect x="156.5" y="240.4" width="75.0" height="29.799999999999983"/></clipPath>
<path d="M33.4,406.6 L35.2,406.2 L37.0,406.1 L38.8,405.5 L40.6,405.5 L42.4,404.8 L44.2,404.8 L46.0,404.5 L47.8,404.4 L49.6,404.0 L51.4,403.6 L53.2,403.6 L55.0,403.4 L56.8,402.7 L58.6,402.7 L60.4,402.6 L62.2,402.0 L64.0,401.8 L65.8,401.2 L67.6,401.2 L69.4,400.5 L71.2,399.6 L73.0,398.3 L74.8,396.3 L76.6,394.0 L78.4,392.4 L80.2,386.8 L82.0,382.2 L83.8,376.5 L85.6,371.0 L87.4,365.5 L89.2,360.2 L91.0,355.0 L92.8,351.2 L94.6,349.2 L96.4,346.4 L98.2,341.7 L100.0,338.5 L101.8,334.5 L103.6,331.9 L105.4,330.7 L107.2,330.7 L109.0,331.0 L110.8,333.4 L112.6,333.2 L114.4,331.9 L116.2,331.1 L118.0,328.4 L119.8,328.5 L121.6,325.8 L123.4,325.3 L125.2,324.7 L127.0,322.6 L128.8,320.5 L130.6,317.5 L132.4,317.0 L134.2,314.5 L136.0,313.1 L137.8,309.5 L139.6,308.1 L141.4,304.4 L143.2,301.8 L145.0,298.1 L146.8,295.1 L148.6,291.9 L150.4,289.6 L152.2,285.4 L154.0,282.2 L155.8,279.6 L157.6,275.8 L159.4,272.2 L161.2,269.9 L163.0,266.8 L164.8,265.1 L166.6,265.0 L168.4,265.1 L170.2,261.8 L172.0,262.6 L173.8,260.4 L175.6,258.8 L177.4,259.4 L179.2,257.9 L181.0,256.9 L182.8,259.0 L184.6,259.1 L186.4,258.7 L188.2,259.2 L190.0,259.1 L191.8,259.4 L193.6,258.7 L195.4,259.5 L197.2,258.9 L199.0,259.7 L200.8,261.7 L202.6,261.1 L204.4,260.7 L206.2,259.3 L208.0,261.3 L209.8,258.5 L211.6,259.4 L213.4,260.6 L215.2,259.4 L217.0,259.3 L218.8,260.1 L220.6,260.2 L222.4,260.1 L224.2,259.1 L226.0,260.2 L227.8,259.0 L229.6,259.3 L231.4,259.6 L233.2,261.2 L235.0,262.6 L236.8,262.5 L238.6,264.2 L240.4,264.6 L242.2,265.8 L244.0,266.7 L245.8,267.2 L247.6,267.6 L249.4,268.6 L251.2,269.9 L253.0,268.0 L254.8,269.8 L256.6,269.4 L258.4,269.8 L260.2,269.5 L262.0,271.1 L263.8,271.1 L265.6,272.6 L267.4,271.9 L269.2,271.9 L271.0,272.1 L272.8,273.8 L274.6,273.8 L276.4,273.4 L278.2,274.7 L280.0,274.2 L281.8,273.3 L283.6,273.7 L285.4,272.6 L287.2,273.3 L289.0,272.3 L290.8,273.3 L292.6,273.3 L294.4,272.7 L296.2,273.3 L298.0,271.9 L299.8,272.6 L301.6,272.0 L303.4,271.1 L305.2,272.2 L307.0,272.6 L308.8,273.3 L310.6,271.2 L312.4,271.3 L314.2,271.8 L316.0,269.7 L317.8,271.0 L319.6,268.6 L321.4,268.5 L323.2,268.8 L325.0,268.5 L326.8,269.1 L328.6,267.6 L330.4,268.0 L331.0,267.8" fill="none" stroke="#b9b09c" stroke-width="1.35" stroke-linejoin="round" clip-path="url(#ch)"/>
<path d="M33.4,406.4 L35.2,406.0 L37.0,406.4 L38.8,405.6 L40.6,405.3 L42.4,405.0 L44.2,405.0 L46.0,404.4 L47.8,404.4 L49.6,404.0 L51.4,403.8 L53.2,403.5 L55.0,403.3 L56.8,403.1 L58.6,402.5 L60.4,402.6 L62.2,402.3 L64.0,402.1 L65.8,401.9 L67.6,401.1 L69.4,401.2 L71.2,399.9 L73.0,399.0 L74.8,397.7 L76.6,396.3 L78.4,394.3 L80.2,391.4 L82.0,387.7 L83.8,382.7 L85.6,378.1 L87.4,373.9 L89.2,366.9 L91.0,362.9 L92.8,358.0 L94.6,353.0 L96.4,348.9 L98.2,344.7 L100.0,340.3 L101.8,336.2 L103.6,332.7 L105.4,333.2 L107.2,333.0 L109.0,333.7 L110.8,336.5 L112.6,334.8 L114.4,334.1 L116.2,332.0 L118.0,331.9 L119.8,329.1 L121.6,327.6 L123.4,326.8 L125.2,324.8 L127.0,322.2 L128.8,321.3 L130.6,319.5 L132.4,317.4 L134.2,314.9 L136.0,313.5 L137.8,309.7 L139.6,308.2 L141.4,305.2 L143.2,301.5 L145.0,298.7 L146.8,297.8 L148.6,291.4 L150.4,289.2 L152.2,285.3 L154.0,282.2 L155.8,278.5 L157.6,275.3 L159.4,271.9 L161.2,268.6 L163.0,265.4 L164.8,264.4 L166.6,262.6 L168.4,261.8 L170.2,260.7 L172.0,258.5 L173.8,256.4 L175.6,255.6 L177.4,255.1 L179.2,254.7 L181.0,254.0 L182.8,253.1 L184.6,251.3 L186.4,251.9 L188.2,252.9 L190.0,252.9 L191.8,253.2 L193.6,251.8 L195.4,252.9 L197.2,250.6 L199.0,252.0 L200.8,252.2 L202.6,251.9 L204.4,254.1 L206.2,253.0 L208.0,253.8 L209.8,255.0 L211.6,254.7 L213.4,257.0 L215.2,256.1 L217.0,257.3 L218.8,257.4 L220.6,257.4 L222.4,258.0 L224.2,258.5 L226.0,258.2 L227.8,260.3 L229.6,258.8 L231.4,260.2 L233.2,261.8 L235.0,262.2 L236.8,263.3 L238.6,262.3 L240.4,263.8 L242.2,264.6 L244.0,266.9 L245.8,265.0 L247.6,266.0 L249.4,267.7 L251.2,267.1 L253.0,267.5 L254.8,267.5 L256.6,268.7 L258.4,267.0 L260.2,268.0 L262.0,268.4 L263.8,269.2 L265.6,269.4 L267.4,268.2 L269.2,269.9 L271.0,269.4 L272.8,272.0 L274.6,270.2 L276.4,271.2 L278.2,270.3 L280.0,270.6 L281.8,270.3 L283.6,271.5 L285.4,271.8 L287.2,270.2 L289.0,271.4 L290.8,271.6 L292.6,272.1 L294.4,270.9 L296.2,272.3 L298.0,270.7 L299.8,271.7 L301.6,271.4 L303.4,271.6 L305.2,272.6 L307.0,272.3 L308.8,273.9 L310.6,272.0 L312.4,271.6 L314.2,272.9 L316.0,272.4 L317.8,272.0 L319.6,273.3 L321.4,273.5 L323.2,271.6 L325.0,272.5 L326.8,273.6 L328.6,272.5 L330.4,274.2 L331.0,273.0" fill="none" stroke="#98c5c4" stroke-width="1.35" stroke-linejoin="round" clip-path="url(#ch)"/>
<path d="M33.4,406.6 L35.2,406.4 L37.0,406.1 L38.8,406.2 L40.6,406.1 L42.4,405.6 L44.2,405.6 L46.0,405.4 L47.8,405.2 L49.6,405.5 L51.4,404.9 L53.2,404.8 L55.0,404.5 L56.8,404.2 L58.6,403.8 L60.4,403.5 L62.2,403.4 L64.0,403.1 L65.8,402.2 L67.6,401.9 L69.4,401.5 L71.2,401.0 L73.0,400.2 L74.8,399.5 L76.6,398.2 L78.4,396.0 L80.2,393.9 L82.0,391.7 L83.8,388.2 L85.6,384.0 L87.4,380.5 L89.2,374.9 L91.0,369.3 L92.8,364.3 L94.6,358.2 L96.4,354.3 L98.2,348.4 L100.0,345.7 L101.8,342.4 L103.6,339.3 L105.4,338.2 L107.2,338.9 L109.0,339.3 L110.8,339.9 L112.6,339.7 L114.4,339.4 L116.2,339.0 L118.0,336.4 L119.8,334.0 L121.6,331.8 L123.4,329.9 L125.2,328.0 L127.0,326.1 L128.8,323.8 L130.6,321.6 L132.4,319.2 L134.2,319.1 L136.0,316.0 L137.8,313.6 L139.6,311.0 L141.4,306.9 L143.2,302.6 L145.0,300.0 L146.8,295.7 L148.6,292.0 L150.4,289.4 L152.2,285.1 L154.0,282.7 L155.8,276.0 L157.6,273.0 L159.4,271.3 L161.2,267.4 L163.0,263.5 L164.8,262.2 L166.6,259.1 L168.4,256.4 L170.2,255.0 L172.0,253.3 L173.8,251.4 L175.6,249.1 L177.4,247.8 L179.2,247.7 L181.0,247.2 L182.8,247.3 L184.6,245.1 L186.4,244.6 L188.2,246.3 L190.0,245.3 L191.8,245.8 L193.6,245.6 L195.4,246.9 L197.2,247.1 L199.0,247.4 L200.8,248.4 L202.6,247.3 L204.4,247.9 L206.2,246.0 L208.0,249.1 L209.8,249.3 L211.6,252.3 L213.4,251.2 L215.2,254.0 L217.0,253.2 L218.8,253.4 L220.6,255.3 L222.4,256.0 L224.2,255.8 L226.0,256.1 L227.8,255.7 L229.6,257.5 L231.4,258.5 L233.2,257.5 L235.0,259.6 L236.8,261.1 L238.6,259.6 L240.4,261.7 L242.2,262.2 L244.0,261.9 L245.8,263.0 L247.6,262.5 L249.4,264.0 L251.2,265.2 L253.0,264.4 L254.8,264.6 L256.6,264.1 L258.4,267.0 L260.2,267.3 L262.0,266.0 L263.8,266.7 L265.6,266.9 L267.4,268.1 L269.2,266.5 L271.0,268.1 L272.8,266.5 L274.6,268.6 L276.4,267.9 L278.2,269.4 L280.0,269.1 L281.8,268.6 L283.6,268.7 L285.4,268.5 L287.2,270.5 L289.0,270.2 L290.8,269.2 L292.6,268.8 L294.4,270.1 L296.2,270.0 L298.0,269.8 L299.8,270.4 L301.6,271.0 L303.4,270.7 L305.2,271.2 L307.0,270.9 L308.8,272.1 L310.6,270.7 L312.4,271.7 L314.2,271.4 L316.0,271.2 L317.8,271.7 L319.6,271.6 L321.4,271.8 L323.2,272.4 L325.0,272.8 L326.8,271.3 L328.6,272.4 L330.4,273.2 L330.7,273.7" fill="none" stroke="#1413d2" stroke-width="1.35" stroke-linejoin="round" clip-path="url(#ch)"/>
<path d="M33.4,406.5 L35.2,406.2 L37.0,406.2 L38.8,405.9 L40.6,405.8 L42.4,405.6 L44.2,405.8 L46.0,405.6 L47.8,405.7 L49.6,405.2 L51.4,405.0 L53.2,405.0 L55.0,404.5 L56.8,404.2 L58.6,403.9 L60.4,403.9 L62.2,403.6 L64.0,403.2 L65.8,402.6 L67.6,402.2 L69.4,401.5 L71.2,401.2 L73.0,400.6 L74.8,399.7 L76.6,398.6 L78.4,397.0 L80.2,394.5 L82.0,392.4 L83.8,388.9 L85.6,385.4 L87.4,380.4 L89.2,375.5 L91.0,370.1 L92.8,363.3 L94.6,359.5 L96.4,353.1 L98.2,349.9 L100.0,346.9 L101.8,343.2 L103.6,341.3 L105.4,341.0 L107.2,340.9 L109.0,340.4 L110.8,343.2 L112.6,343.7 L114.4,342.5 L116.2,341.0 L118.0,339.1 L119.8,335.7 L121.6,334.1 L123.4,333.0 L125.2,330.3 L127.0,328.0 L128.8,325.2 L130.6,323.3 L132.4,322.1 L134.2,320.0 L136.0,317.7 L137.8,314.1 L139.6,311.2 L141.4,306.9 L143.2,303.9 L145.0,301.1 L146.8,294.7 L148.6,293.8 L150.4,289.1 L152.2,284.3 L154.0,280.7 L155.8,277.2 L157.6,274.8 L159.4,271.5 L161.2,269.1 L163.0,264.4 L164.8,261.7 L166.6,259.8 L168.4,258.8 L170.2,256.4 L172.0,254.2 L173.8,251.8 L175.6,251.7 L177.4,247.7 L179.2,247.6 L181.0,247.1 L182.8,247.2 L184.6,245.5 L186.4,246.8 L188.2,245.5 L190.0,244.9 L191.8,245.5 L193.6,246.6 L195.4,246.8 L197.2,247.9 L199.0,247.3 L200.8,248.5 L202.6,249.7 L204.4,248.6 L206.2,249.2 L208.0,249.8 L209.8,249.2 L211.6,252.4 L213.4,252.4 L215.2,253.9 L217.0,254.9 L218.8,255.3 L220.6,255.8 L222.4,256.4 L224.2,257.4 L226.0,257.5 L227.8,258.1 L229.6,259.6 L231.4,258.1 L233.2,260.0 L235.0,260.9 L236.8,260.3 L238.6,260.1 L240.4,263.2 L242.2,262.8 L244.0,263.2 L245.8,263.3 L247.6,263.4 L249.4,263.8 L251.2,264.8 L253.0,265.1 L254.8,265.3 L256.6,265.4 L258.4,266.4 L260.2,265.9 L262.0,265.8 L263.8,266.3 L265.6,266.4 L267.4,268.1 L269.2,267.5 L271.0,268.7 L272.8,268.7 L274.6,269.8 L276.4,269.4 L278.2,269.6 L280.0,268.9 L281.8,268.3 L283.6,270.1 L285.4,270.6 L287.2,269.7 L289.0,269.7 L290.8,269.9 L292.6,269.8 L294.4,271.1 L296.2,270.4 L298.0,271.2 L299.8,271.1 L301.6,270.5 L303.4,272.5 L305.2,271.2 L307.0,271.0 L308.8,272.5 L310.6,272.1 L312.4,271.5 L314.2,271.2 L316.0,271.0 L317.8,271.5 L319.6,272.6 L321.4,271.9 L323.2,273.3 L325.0,272.5 L326.8,273.5 L328.6,272.6 L330.4,273.3 L331.0,273.3" fill="none" stroke="#152d41" stroke-width="1.35" stroke-linejoin="round" clip-path="url(#ch)"/>
<rect x="156.5" y="240.4" width="75.0" height="29.799999999999983" fill="none" stroke="#c9b592" stroke-width="0.6" stroke-dasharray="2,1.5"/>
<line x1="232.0" y1="270.2" x2="232.0" y2="276.9" stroke="#f6dca8" stroke-width="0.8"/>
<path d="M230.2,276.5 L233.8,276.5 L232.0,279.9 Z" fill="#f0be4a"/>
<rect x="165.5" y="282.3" width="152.0" height="114.80000000000001" fill="#fff" stroke="#8a8a8a" stroke-width="0.9"/>
<clipPath id="ci"><rect x="165.5" y="282.3" width="152.0" height="114.80000000000001"/></clipPath>
<path d="M165.5,380.3 L167.8,379.6 L170.1,376.0 L172.4,374.2 L174.7,371.8 L177.0,370.2 L179.3,367.5 L181.6,367.3 L183.9,362.3 L186.2,360.6 L188.5,355.9 L190.8,353.4 L193.1,352.5 L195.4,346.3 L197.7,344.3 L200.0,339.6 L202.3,337.7 L204.6,332.2 L206.9,330.3 L209.2,325.3 L211.5,324.0 L213.8,316.2 L216.1,318.1 L218.4,313.5 L220.7,309.3 L223.0,307.0 L225.3,307.7 L227.6,305.9 L229.9,305.1 L232.2,306.8 L234.5,304.8 L236.8,302.7 L239.1,305.6 L241.4,304.5 L243.7,304.5 L246.0,304.7 L248.3,304.8 L250.6,304.2 L252.9,305.2 L255.2,303.4 L257.5,305.5 L259.8,304.8 L262.1,306.2 L264.4,305.7 L266.7,306.9 L269.0,306.2 L271.3,306.5 L273.6,306.2 L275.9,306.6 L278.2,308.5 L280.5,306.8 L282.8,307.1 L285.1,305.1 L287.4,307.4 L289.7,307.2 L292.0,306.1 L294.3,306.3 L296.6,307.3 L298.9,307.1 L301.2,308.7 L303.5,308.6 L305.8,308.2 L308.1,307.6 L310.4,310.1 L312.7,309.5 L315.0,311.5 L317.3,312.3 L318.0,312.7" fill="none" stroke="#bdbdbd" stroke-width="1.35" stroke-linejoin="round" clip-path="url(#ci)"/>
<path d="M165.5,383.6 L167.8,380.0 L170.1,380.2 L172.4,377.9 L174.7,375.0 L177.0,373.4 L179.3,371.2 L181.6,367.5 L183.9,365.3 L186.2,363.3 L188.5,359.5 L190.8,354.8 L193.1,353.5 L195.4,348.5 L197.7,344.9 L200.0,341.0 L202.3,337.6 L204.6,336.7 L206.9,330.7 L209.2,328.1 L211.5,322.3 L213.8,318.9 L216.1,314.8 L218.4,313.9 L220.7,311.9 L223.0,309.0 L225.3,307.1 L227.6,305.0 L229.9,303.6 L232.2,302.8 L234.5,301.9 L236.8,299.0 L239.1,298.9 L241.4,298.7 L243.7,297.0 L246.0,299.7 L248.3,299.2 L250.6,298.1 L252.9,297.7 L255.2,297.6 L257.5,299.2 L259.8,299.8 L262.1,299.2 L264.4,299.1 L266.7,299.5 L269.0,298.2 L271.3,299.2 L273.6,298.7 L275.9,300.7 L278.2,300.7 L280.5,301.9 L282.8,302.7 L285.1,303.9 L287.4,303.5 L289.7,304.7 L292.0,305.6 L294.3,305.6 L296.6,304.0 L298.9,306.5 L301.2,306.7 L303.5,306.4 L305.8,306.7 L308.1,308.0 L310.4,310.7 L312.7,307.8 L315.0,309.1 L317.3,310.0 L318.0,311.3" fill="none" stroke="#9cd3ee" stroke-width="1.35" stroke-linejoin="round" clip-path="url(#ci)"/>
<path d="M165.3,386.0 L167.6,382.8 L169.9,381.4 L172.2,378.9 L174.5,376.6 L176.8,374.4 L179.1,370.6 L181.4,370.5 L183.7,368.1 L186.0,365.0 L188.3,361.0 L190.6,357.4 L192.9,353.1 L195.2,349.2 L197.5,347.7 L199.8,342.1 L202.1,338.2 L204.4,333.9 L206.7,329.8 L209.0,325.4 L211.3,321.1 L213.6,317.7 L215.9,313.0 L218.2,308.5 L220.5,306.4 L222.8,303.0 L225.1,302.6 L227.4,298.0 L229.7,299.2 L232.0,296.0 L234.3,294.9 L236.6,295.0 L238.9,294.7 L241.2,291.6 L243.5,291.4 L245.8,291.3 L248.1,289.7 L250.4,291.5 L252.7,290.3 L255.0,291.4 L257.3,291.6 L259.6,290.3 L261.9,292.8 L264.2,292.5 L266.5,293.1 L268.8,294.5 L271.1,293.1 L273.4,295.7 L275.7,297.6 L278.0,297.8 L280.3,299.0 L282.6,299.8 L284.9,300.0 L287.2,301.4 L289.5,302.7 L291.8,303.0 L294.1,302.2 L296.4,306.1 L298.7,304.2 L301.0,304.5 L303.3,304.6 L305.6,305.2 L307.9,306.5 L310.2,306.9 L312.5,307.9 L314.8,307.8 L317.1,308.2 L317.8,308.7" fill="none" stroke="#1414ff" stroke-width="1.35" stroke-linejoin="round" clip-path="url(#ci)"/>
<path d="M165.5,385.8 L167.8,385.2 L170.1,381.2 L172.4,378.3 L174.7,377.1 L177.0,376.4 L179.3,373.5 L181.6,370.6 L183.9,367.2 L186.2,364.1 L188.5,361.3 L190.8,355.4 L193.1,353.6 L195.4,349.1 L197.7,347.4 L200.0,344.3 L202.3,338.4 L204.6,334.6 L206.9,330.1 L209.2,326.8 L211.5,322.1 L213.8,317.2 L216.1,313.1 L218.4,309.6 L220.7,307.3 L223.0,305.3 L225.3,302.1 L227.6,301.4 L229.9,299.3 L232.2,297.1 L234.5,295.0 L236.8,294.1 L239.1,293.0 L241.4,293.7 L243.7,290.5 L246.0,292.4 L248.3,290.6 L250.6,291.1 L252.9,290.5 L255.2,291.5 L257.5,289.5 L259.8,292.4 L262.1,292.7 L264.4,292.4 L266.7,294.6 L269.0,294.5 L271.3,294.2 L273.6,296.7 L275.9,296.5 L278.2,299.1 L280.5,298.5 L282.8,299.7 L285.1,301.7 L287.4,302.9 L289.7,303.6 L292.0,302.6 L294.3,304.4 L296.6,302.5 L298.9,305.0 L301.2,301.5 L303.5,306.4 L305.8,305.9 L308.1,305.6 L310.4,308.3 L312.7,308.4 L315.0,308.9 L317.3,309.8 L318.0,309.8" fill="none" stroke="#15304f" stroke-width="1.35" stroke-linejoin="round" clip-path="url(#ci)"/>
<line x1="165.50" y1="397.1" x2="165.50" y2="398.70000000000005" stroke="#6d6e71" stroke-width="0.7"/>
<text x="165.50" y="405.80" font-size="6" text-anchor="middle" textLength="15.6" lengthAdjust="spacingAndGlyphs" fill="#231f20">8,985</text>
<line x1="203.50" y1="397.1" x2="203.50" y2="398.70000000000005" stroke="#6d6e71" stroke-width="0.7"/>
<text x="203.50" y="405.80" font-size="6" text-anchor="middle" textLength="15.6" lengthAdjust="spacingAndGlyphs" fill="#231f20">8,990</text>
<line x1="241.50" y1="397.1" x2="241.50" y2="398.70000000000005" stroke="#6d6e71" stroke-width="0.7"/>
<text x="241.50" y="405.80" font-size="6" text-anchor="middle" textLength="15.6" lengthAdjust="spacingAndGlyphs" fill="#231f20">8,995</text>
<line x1="279.50" y1="397.1" x2="279.50" y2="398.70000000000005" stroke="#6d6e71" stroke-width="0.7"/>
<text x="279.50" y="405.80" font-size="6" text-anchor="middle" textLength="15.6" lengthAdjust="spacingAndGlyphs" fill="#231f20">9,000</text>
<line x1="317.50" y1="397.1" x2="317.50" y2="398.70000000000005" stroke="#6d6e71" stroke-width="0.7"/>
<text x="317.50" y="405.80" font-size="6" text-anchor="middle" textLength="15.6" lengthAdjust="spacingAndGlyphs" fill="#231f20">9,005</text>
<text x="222.40" y="414.60" font-size="7" textLength="39.099999999999994" lengthAdjust="spacingAndGlyphs" fill="#231f20">Energy (eV)</text>
<text transform="translate(160.6,366.50) rotate(-90)" x="0" y="0" font-size="6.5" fill="#231f20" textLength="54.0" lengthAdjust="spacingAndGlyphs">Normalized <tspan font-style="italic">μ</tspan>(<tspan font-style="italic">E</tspan>)</text>
<path d="M381.5,230.5 L676.5,230.5 L676.5,417.5 L381.5,417.5 Z" fill="none" stroke="#6d6e71" stroke-width="1"/>
<line x1="381.5" y1="409.30" x2="383.9" y2="409.30" stroke="#555" stroke-width="0.9"/>
<text x="376.80" y="412.00" font-size="8.6" text-anchor="end" textLength="3.9" lengthAdjust="spacingAndGlyphs" fill="#231f20" class="tk">0</text>
<line x1="381.5" y1="379.50" x2="383.9" y2="379.50" stroke="#555" stroke-width="0.9"/>
<text x="376.80" y="382.20" font-size="8.6" text-anchor="end" textLength="10.4" lengthAdjust="spacingAndGlyphs" fill="#231f20" class="tk">0.2</text>
<line x1="381.5" y1="349.70" x2="383.9" y2="349.70" stroke="#555" stroke-width="0.9"/>
<text x="376.80" y="352.40" font-size="8.6" text-anchor="end" textLength="10.4" lengthAdjust="spacingAndGlyphs" fill="#231f20" class="tk">0.4</text>
<line x1="381.5" y1="319.90" x2="383.9" y2="319.90" stroke="#555" stroke-width="0.9"/>
<text x="376.80" y="322.60" font-size="8.6" text-anchor="end" textLength="10.4" lengthAdjust="spacingAndGlyphs" fill="#231f20" class="tk">0.6</text>
<line x1="381.5" y1="290.10" x2="383.9" y2="290.10" stroke="#555" stroke-width="0.9"/>
<text x="376.80" y="292.80" font-size="8.6" text-anchor="end" textLength="10.4" lengthAdjust="spacingAndGlyphs" fill="#231f20" class="tk">0.8</text>
<line x1="381.5" y1="260.30" x2="383.9" y2="260.30" stroke="#555" stroke-width="0.9"/>
<text x="376.80" y="263.00" font-size="8.6" text-anchor="end" textLength="9.4" lengthAdjust="spacingAndGlyphs" fill="#231f20" class="tk">1.0</text>
<text x="376.80" y="233.20" font-size="8.6" text-anchor="end" textLength="8.6" lengthAdjust="spacingAndGlyphs" fill="#231f20" class="tk">1.2</text>
<line x1="381.50" y1="417.5" x2="381.50" y2="420.3" stroke="#555" stroke-width="1"/>
<text x="381.50" y="430.70" font-size="8.6" text-anchor="middle" textLength="19.2" lengthAdjust="spacingAndGlyphs" fill="#231f20" class="tk">8,970</text>
<line x1="440.50" y1="417.5" x2="440.50" y2="420.3" stroke="#555" stroke-width="1"/>
<text x="440.50" y="430.70" font-size="8.6" text-anchor="middle" textLength="19.2" lengthAdjust="spacingAndGlyphs" fill="#231f20" class="tk">8,980</text>
<line x1="499.50" y1="417.5" x2="499.50" y2="420.3" stroke="#555" stroke-width="1"/>
<text x="499.50" y="430.70" font-size="8.6" text-anchor="middle" textLength="19.2" lengthAdjust="spacingAndGlyphs" fill="#231f20" class="tk">8,990</text>
<line x1="558.50" y1="417.5" x2="558.50" y2="420.3" stroke="#555" stroke-width="1"/>
<text x="558.50" y="430.70" font-size="8.6" text-anchor="middle" textLength="19.2" lengthAdjust="spacingAndGlyphs" fill="#231f20" class="tk">9,000</text>
<line x1="617.50" y1="417.5" x2="617.50" y2="420.3" stroke="#555" stroke-width="1"/>
<text x="617.50" y="430.70" font-size="8.6" text-anchor="middle" textLength="19.2" lengthAdjust="spacingAndGlyphs" fill="#231f20" class="tk">9,010</text>
<line x1="676.50" y1="417.5" x2="676.50" y2="420.3" stroke="#555" stroke-width="1"/>
<text x="676.50" y="430.70" font-size="8.6" text-anchor="middle" textLength="19.2" lengthAdjust="spacingAndGlyphs" fill="#231f20" class="tk">9,020</text>
<text x="497.90" y="443.80" font-size="8.4" textLength="45.10000000000002" lengthAdjust="spacingAndGlyphs" fill="#231f20">Energy (eV)</text>
<text transform="translate(358.5,356.30) rotate(-90)" x="0" y="0" font-size="8" fill="#231f20" textLength="62.6" lengthAdjust="spacingAndGlyphs">Normalized <tspan font-style="italic">μ</tspan>(<tspan font-style="italic">E</tspan>)</text>
<text x="351.50" y="234.80" font-size="13" font-weight="bold" fill="#000">d</text>
<line x1="390.2" y1="239.5" x2="397.8" y2="239.5" stroke="#bdbdbd" stroke-width="1.15"/>
<text x="401.6" y="242.00" font-size="7.3" fill="#231f20" textLength="63.8" lengthAdjust="spacingAndGlyphs">2nd H<tspan font-size="4.6" dy="2.8">2</tspan><tspan dy="-2.8"> cycle 9 min</tspan></text>
<line x1="390.2" y1="252.3" x2="397.8" y2="252.3" stroke="#9cd3ee" stroke-width="1.15"/>
<text x="401.6" y="254.80" font-size="7.3" fill="#231f20" textLength="68.2" lengthAdjust="spacingAndGlyphs">3rd CO<tspan font-size="4.6" dy="2.8">2</tspan><tspan dy="-2.8"> cycle 3 min</tspan></text>
<line x1="390.2" y1="265.3" x2="397.8" y2="265.3" stroke="#1414ff" stroke-width="1.15"/>
<text x="401.6" y="267.80" font-size="7.3" fill="#231f20" textLength="68.2" lengthAdjust="spacingAndGlyphs">3rd CO<tspan font-size="4.6" dy="2.8">2</tspan><tspan dy="-2.8"> cycle 6 min</tspan></text>
<line x1="390.2" y1="277.9" x2="397.8" y2="277.9" stroke="#15304f" stroke-width="1.15"/>
<text x="401.6" y="280.40" font-size="7.3" fill="#231f20" textLength="68.2" lengthAdjust="spacingAndGlyphs">3rd CO<tspan font-size="4.6" dy="2.8">2</tspan><tspan dy="-2.8"> cycle 9 min</tspan></text>
<text x="586.80" y="241.40" font-size="7.3" textLength="59.3" lengthAdjust="spacingAndGlyphs" fill="#231f20">2Cu2Zn oxidation</text>
<text x="586.80" y="253.80" font-size="7.3" textLength="34.4" lengthAdjust="spacingAndGlyphs" fill="#231f20">Cu XANES</text>
<rect x="500.3" y="245.3" width="74.80000000000001" height="30.19999999999999" fill="#f9eed2"/>
<clipPath id="dm"><rect x="381.5" y="230.5" width="295.0" height="187.0"/></clipPath>
<path d="M381.1,406.0 L382.9,405.9 L384.7,405.7 L386.5,405.4 L388.3,405.3 L390.1,405.0 L391.9,404.9 L393.7,405.1 L395.5,404.5 L397.3,404.4 L399.1,404.3 L400.9,404.0 L402.7,403.7 L404.5,403.5 L406.3,403.7 L408.1,403.2 L409.9,402.5 L411.7,402.1 L413.5,401.2 L415.3,400.5 L417.1,399.6 L418.9,398.7 L420.7,397.1 L422.5,394.1 L424.3,390.0 L426.1,384.5 L427.9,376.9 L429.7,370.6 L431.5,363.2 L433.3,356.1 L435.1,351.0 L436.9,346.4 L438.7,343.6 L440.5,340.3 L442.3,338.0 L444.1,336.4 L445.9,335.2 L447.7,333.5 L449.5,332.8 L451.3,332.6 L453.1,333.2 L454.9,332.9 L456.7,332.1 L458.5,333.0 L460.3,330.9 L462.1,329.9 L463.9,328.6 L465.7,328.6 L467.5,327.2 L469.3,324.2 L471.1,323.1 L472.9,321.4 L474.7,318.4 L476.5,316.3 L478.3,314.3 L480.1,314.3 L481.9,310.2 L483.7,307.4 L485.5,304.4 L487.3,301.5 L489.1,300.4 L490.9,295.8 L492.7,293.6 L494.5,291.9 L496.3,287.1 L498.1,284.3 L499.9,281.1 L501.7,277.3 L503.5,274.4 L505.3,271.8 L507.1,267.4 L508.9,265.1 L510.7,262.7 L512.5,260.8 L514.3,262.5 L516.1,260.5 L517.9,260.8 L519.7,260.5 L521.5,261.4 L523.3,259.3 L525.1,260.7 L526.9,259.1 L528.7,261.2 L530.5,261.9 L532.3,262.0 L534.1,262.8 L535.9,263.3 L537.7,264.5 L539.5,264.1 L541.3,266.7 L543.1,265.0 L544.9,265.1 L546.7,264.7 L548.5,264.5 L550.3,264.4 L552.1,263.7 L553.9,262.4 L555.7,261.9 L557.5,262.1 L559.3,262.9 L561.1,263.5 L562.9,261.2 L564.7,262.2 L566.5,260.9 L568.3,263.4 L570.1,263.1 L571.9,265.7 L573.7,263.6 L575.5,265.5 L577.3,265.0 L579.1,265.5 L580.9,266.7 L582.7,266.1 L584.5,267.9 L586.3,267.5 L588.1,268.9 L589.9,269.4 L591.7,268.2 L593.5,269.5 L595.3,270.4 L597.1,270.3 L598.9,271.4 L600.7,271.6 L602.5,271.6 L604.3,272.6 L606.1,272.5 L607.9,272.5 L609.7,273.8 L611.5,273.5 L613.3,274.5 L615.1,273.8 L616.9,274.2 L618.7,274.3 L620.5,274.6 L622.3,273.1 L624.1,274.3 L625.9,273.7 L627.7,273.5 L629.5,272.6 L631.3,273.4 L633.1,273.3 L634.9,273.4 L636.7,272.6 L638.5,272.6 L640.3,272.3 L642.1,271.3 L643.9,271.3 L645.7,269.7 L647.5,269.7 L649.3,270.3 L651.1,270.0 L652.9,269.3 L654.7,269.1 L656.5,269.7 L658.3,267.9 L660.1,268.7 L661.9,267.0 L663.7,267.6 L665.5,268.2 L667.3,267.7 L669.1,266.9 L670.9,268.7 L672.7,266.6 L674.5,266.2 L676.3,267.2 L676.7,266.5" fill="none" stroke="#bdbdbd" stroke-width="1.35" stroke-linejoin="round" clip-path="url(#dm)"/>
<path d="M381.4,406.8 L383.2,406.9 L385.0,406.6 L386.8,406.4 L388.6,406.3 L390.4,406.1 L392.2,406.0 L394.0,405.9 L395.8,405.4 L397.6,405.1 L399.4,404.9 L401.2,405.2 L403.0,405.0 L404.8,404.6 L406.6,404.2 L408.4,404.1 L410.2,403.8 L412.0,403.0 L413.8,402.1 L415.6,401.5 L417.4,400.6 L419.2,399.1 L421.0,397.6 L422.8,394.9 L424.6,390.9 L426.4,385.3 L428.2,378.6 L430.0,371.1 L431.8,364.2 L433.6,357.3 L435.4,351.1 L437.2,347.8 L439.0,345.4 L440.8,340.7 L442.6,338.8 L444.4,336.3 L446.2,336.0 L448.0,335.2 L449.8,335.3 L451.6,333.7 L453.4,334.6 L455.2,333.3 L457.0,333.2 L458.8,332.7 L460.6,330.8 L462.4,330.5 L464.2,328.8 L466.0,329.2 L467.8,327.1 L469.6,327.1 L471.4,323.6 L473.2,321.1 L475.0,320.2 L476.8,318.2 L478.6,315.2 L480.4,313.3 L482.2,309.9 L484.0,310.7 L485.8,305.0 L487.6,302.4 L489.4,298.4 L491.2,296.8 L493.0,293.2 L494.8,290.4 L496.6,288.5 L498.4,284.0 L500.2,283.1 L502.0,278.7 L503.8,276.0 L505.6,272.2 L507.4,267.8 L509.2,265.5 L511.0,263.6 L512.8,263.2 L514.6,262.3 L516.4,261.8 L518.2,262.9 L520.0,262.5 L521.8,262.3 L523.6,261.1 L525.4,260.7 L527.2,262.0 L529.0,261.7 L530.8,262.2 L532.6,263.9 L534.4,264.0 L536.2,263.6 L538.0,263.5 L539.8,265.1 L541.6,265.6 L543.4,266.5 L545.2,267.0 L547.0,265.0 L548.8,267.4 L550.6,264.2 L552.4,264.5 L554.2,265.3 L556.0,264.3 L557.8,263.1 L559.6,263.9 L561.4,262.5 L563.2,262.7 L565.0,262.6 L566.8,264.0 L568.6,263.3 L570.4,264.8 L572.2,265.7 L574.0,265.1 L575.8,265.3 L577.6,265.3 L579.4,267.9 L581.2,267.1 L583.0,268.0 L584.8,268.3 L586.6,268.5 L588.4,269.5 L590.2,269.0 L592.0,271.6 L593.8,270.4 L595.6,271.2 L597.4,271.6 L599.2,271.8 L601.0,273.1 L602.8,271.3 L604.6,273.2 L606.4,274.3 L608.2,273.5 L610.0,273.8 L611.8,275.3 L613.6,274.7 L615.4,274.1 L617.2,276.5 L619.0,276.4 L620.8,274.7 L622.6,276.0 L624.4,275.3 L626.2,274.4 L628.0,273.0 L629.8,274.6 L631.6,275.2 L633.4,273.6 L635.2,273.3 L637.0,273.3 L638.8,273.0 L640.6,273.2 L642.4,273.6 L644.2,271.5 L646.0,272.0 L647.8,272.1 L649.6,270.9 L651.4,271.3 L653.2,270.4 L655.0,270.5 L656.8,269.4 L658.6,268.9 L660.4,270.2 L662.2,269.9 L664.0,268.8 L665.8,269.1 L667.6,267.5 L669.4,268.2 L671.2,268.5 L673.0,270.0 L674.8,267.9 L676.6,268.4 L677.0,268.9" fill="none" stroke="#9cd3ee" stroke-width="1.35" stroke-linejoin="round" clip-path="url(#dm)"/>
<path d="M381.0,406.5 L382.8,406.2 L384.6,406.1 L386.4,406.1 L388.2,406.0 L390.0,406.0 L391.8,405.8 L393.6,406.0 L395.4,405.5 L397.2,405.4 L399.0,405.0 L400.8,404.8 L402.6,404.7 L404.4,404.6 L406.2,404.0 L408.0,403.6 L409.8,403.5 L411.6,403.4 L413.4,402.7 L415.2,402.3 L417.0,401.7 L418.8,400.6 L420.6,399.3 L422.4,398.7 L424.2,397.3 L426.0,396.0 L427.8,393.8 L429.6,390.6 L431.4,386.1 L433.2,380.4 L435.0,374.4 L436.8,368.6 L438.6,363.5 L440.4,355.6 L442.2,347.2 L444.0,340.4 L445.8,335.0 L447.6,332.7 L449.4,331.0 L451.2,331.7 L453.0,332.3 L454.8,334.2 L456.6,334.0 L458.4,334.3 L460.2,334.3 L462.0,335.4 L463.8,333.6 L465.6,332.1 L467.4,329.4 L469.2,328.4 L471.0,324.9 L472.8,322.2 L474.6,321.4 L476.4,319.2 L478.2,317.0 L480.0,315.2 L481.8,312.6 L483.6,309.9 L485.4,308.0 L487.2,303.6 L489.0,302.0 L490.8,297.8 L492.6,294.7 L494.4,290.1 L496.2,288.2 L498.0,285.8 L499.8,282.9 L501.6,278.9 L503.4,275.2 L505.2,272.6 L507.0,269.4 L508.8,263.5 L510.6,261.5 L512.4,259.2 L514.2,257.1 L516.0,254.1 L517.8,253.8 L519.6,252.5 L521.4,251.2 L523.2,251.1 L525.0,250.3 L526.8,248.2 L528.6,249.2 L530.4,247.1 L532.2,249.1 L534.0,247.6 L535.8,250.2 L537.6,249.6 L539.4,251.6 L541.2,252.6 L543.0,252.2 L544.8,253.6 L546.6,252.8 L548.4,254.1 L550.2,255.8 L552.0,256.7 L553.8,257.2 L555.6,257.3 L557.4,258.9 L559.2,258.2 L561.0,258.4 L562.8,259.0 L564.6,259.6 L566.4,260.4 L568.2,260.4 L570.0,262.4 L571.8,262.0 L573.6,261.7 L575.4,263.0 L577.2,263.7 L579.0,263.8 L580.8,263.5 L582.6,263.6 L584.4,264.0 L586.2,265.1 L588.0,264.9 L589.8,264.4 L591.6,266.0 L593.4,264.3 L595.2,265.6 L597.0,267.1 L598.8,266.7 L600.6,264.8 L602.4,265.9 L604.2,265.9 L606.0,267.3 L607.8,267.1 L609.6,267.9 L611.4,267.7 L613.2,267.8 L615.0,266.8 L616.8,267.2 L618.6,267.3 L620.4,266.8 L622.2,269.6 L624.0,268.1 L625.8,266.6 L627.6,268.5 L629.4,267.3 L631.2,268.4 L633.0,267.5 L634.8,267.1 L636.6,267.3 L638.4,267.0 L640.2,267.7 L642.0,267.1 L643.8,268.7 L645.6,268.0 L647.4,268.6 L649.2,269.2 L651.0,268.3 L652.8,268.2 L654.6,270.7 L656.4,268.5 L658.2,269.3 L660.0,270.4 L661.8,270.5 L663.6,270.0 L665.4,269.4 L667.2,271.1 L669.0,270.7 L670.8,270.3 L672.6,270.4 L674.4,270.6 L676.2,271.9 L677.0,271.2" fill="none" stroke="#1414ff" stroke-width="1.35" stroke-linejoin="round" clip-path="url(#dm)"/>
<path d="M381.4,408.2 L383.2,406.6 L385.0,406.4 L386.8,406.4 L388.6,406.3 L390.4,406.0 L392.2,406.1 L394.0,406.1 L395.8,405.9 L397.6,405.7 L399.4,405.5 L401.2,405.1 L403.0,404.8 L404.8,404.7 L406.6,404.5 L408.4,404.6 L410.2,403.6 L412.0,403.8 L413.8,402.9 L415.6,402.5 L417.4,401.7 L419.2,400.6 L421.0,399.9 L422.8,399.2 L424.6,397.7 L426.4,396.7 L428.2,394.2 L430.0,390.8 L431.8,386.5 L433.6,380.5 L435.4,374.8 L437.2,369.6 L439.0,363.1 L440.8,356.7 L442.6,348.9 L444.4,341.7 L446.2,337.7 L448.0,335.5 L449.8,335.0 L451.6,334.5 L453.4,335.7 L455.2,336.2 L457.0,337.2 L458.8,338.9 L460.6,337.5 L462.4,337.5 L464.2,336.2 L466.0,334.5 L467.8,331.5 L469.6,330.9 L471.4,328.6 L473.2,325.3 L475.0,323.1 L476.8,321.0 L478.6,317.6 L480.4,316.0 L482.2,313.1 L484.0,309.9 L485.8,307.3 L487.6,303.6 L489.4,302.0 L491.2,299.2 L493.0,293.8 L494.8,291.5 L496.6,289.0 L498.4,283.7 L500.2,281.7 L502.0,278.9 L503.8,276.3 L505.6,271.7 L507.4,268.0 L509.2,265.4 L511.0,261.3 L512.8,259.4 L514.6,256.8 L516.4,255.4 L518.2,253.4 L520.0,254.0 L521.8,252.2 L523.6,252.1 L525.4,248.8 L527.2,248.8 L529.0,248.5 L530.8,247.7 L532.6,248.0 L534.4,248.4 L536.2,249.9 L538.0,250.9 L539.8,252.0 L541.6,252.9 L543.4,253.6 L545.2,253.9 L547.0,254.1 L548.8,257.8 L550.6,256.2 L552.4,256.3 L554.2,258.3 L556.0,258.1 L557.8,257.5 L559.6,259.1 L561.4,259.0 L563.2,259.3 L565.0,259.5 L566.8,261.3 L568.6,260.8 L570.4,262.0 L572.2,261.5 L574.0,263.0 L575.8,263.4 L577.6,263.9 L579.4,264.1 L581.2,264.5 L583.0,264.2 L584.8,265.7 L586.6,265.6 L588.4,265.1 L590.2,264.7 L592.0,266.2 L593.8,265.7 L595.6,265.1 L597.4,266.4 L599.2,266.9 L601.0,267.4 L602.8,267.3 L604.6,266.8 L606.4,266.6 L608.2,267.3 L610.0,268.9 L611.8,267.7 L613.6,267.4 L615.4,267.6 L617.2,268.8 L619.0,268.6 L620.8,268.3 L622.6,267.8 L624.4,268.1 L626.2,268.7 L628.0,268.3 L629.8,269.6 L631.6,269.1 L633.4,268.5 L635.2,268.4 L637.0,270.1 L638.8,268.9 L640.6,269.5 L642.4,268.6 L644.2,269.4 L646.0,269.2 L647.8,270.4 L649.6,270.7 L651.4,269.6 L653.2,270.5 L655.0,271.3 L656.8,268.9 L658.6,271.0 L660.4,270.8 L662.2,272.3 L664.0,271.2 L665.8,268.7 L667.6,271.7 L669.4,271.6 L671.2,271.0 L673.0,272.1 L674.8,271.8 L676.6,273.0 L677.0,271.7" fill="none" stroke="#15304f" stroke-width="1.35" stroke-linejoin="round" clip-path="url(#dm)"/>
<clipPath id="dh"><rect x="500.3" y="245.3" width="74.80000000000001" height="30.19999999999999"/></clipPath>
<path d="M381.1,406.0 L382.9,405.9 L384.7,405.7 L386.5,405.4 L388.3,405.3 L390.1,405.0 L391.9,404.9 L393.7,405.1 L395.5,404.5 L397.3,404.4 L399.1,404.3 L400.9,404.0 L402.7,403.7 L404.5,403.5 L406.3,403.7 L408.1,403.2 L409.9,402.5 L411.7,402.1 L413.5,401.2 L415.3,400.5 L417.1,399.6 L418.9,398.7 L420.7,397.1 L422.5,394.1 L424.3,390.0 L426.1,384.5 L427.9,376.9 L429.7,370.6 L431.5,363.2 L433.3,356.1 L435.1,351.0 L436.9,346.4 L438.7,343.6 L440.5,340.3 L442.3,338.0 L444.1,336.4 L445.9,335.2 L447.7,333.5 L449.5,332.8 L451.3,332.6 L453.1,333.2 L454.9,332.9 L456.7,332.1 L458.5,333.0 L460.3,330.9 L462.1,329.9 L463.9,328.6 L465.7,328.6 L467.5,327.2 L469.3,324.2 L471.1,323.1 L472.9,321.4 L474.7,318.4 L476.5,316.3 L478.3,314.3 L480.1,314.3 L481.9,310.2 L483.7,307.4 L485.5,304.4 L487.3,301.5 L489.1,300.4 L490.9,295.8 L492.7,293.6 L494.5,291.9 L496.3,287.1 L498.1,284.3 L499.9,281.1 L501.7,277.3 L503.5,274.4 L505.3,271.8 L507.1,267.4 L508.9,265.1 L510.7,262.7 L512.5,260.8 L514.3,262.5 L516.1,260.5 L517.9,260.8 L519.7,260.5 L521.5,261.4 L523.3,259.3 L525.1,260.7 L526.9,259.1 L528.7,261.2 L530.5,261.9 L532.3,262.0 L534.1,262.8 L535.9,263.3 L537.7,264.5 L539.5,264.1 L541.3,266.7 L543.1,265.0 L544.9,265.1 L546.7,264.7 L548.5,264.5 L550.3,264.4 L552.1,263.7 L553.9,262.4 L555.7,261.9 L557.5,262.1 L559.3,262.9 L561.1,263.5 L562.9,261.2 L564.7,262.2 L566.5,260.9 L568.3,263.4 L570.1,263.1 L571.9,265.7 L573.7,263.6 L575.5,265.5 L577.3,265.0 L579.1,265.5 L580.9,266.7 L582.7,266.1 L584.5,267.9 L586.3,267.5 L588.1,268.9 L589.9,269.4 L591.7,268.2 L593.5,269.5 L595.3,270.4 L597.1,270.3 L598.9,271.4 L600.7,271.6 L602.5,271.6 L604.3,272.6 L606.1,272.5 L607.9,272.5 L609.7,273.8 L611.5,273.5 L613.3,274.5 L615.1,273.8 L616.9,274.2 L618.7,274.3 L620.5,274.6 L622.3,273.1 L624.1,274.3 L625.9,273.7 L627.7,273.5 L629.5,272.6 L631.3,273.4 L633.1,273.3 L634.9,273.4 L636.7,272.6 L638.5,272.6 L640.3,272.3 L642.1,271.3 L643.9,271.3 L645.7,269.7 L647.5,269.7 L649.3,270.3 L651.1,270.0 L652.9,269.3 L654.7,269.1 L656.5,269.7 L658.3,267.9 L660.1,268.7 L661.9,267.0 L663.7,267.6 L665.5,268.2 L667.3,267.7 L669.1,266.9 L670.9,268.7 L672.7,266.6 L674.5,266.2 L676.3,267.2 L676.7,266.5" fill="none" stroke="#b9b09c" stroke-width="1.35" stroke-linejoin="round" clip-path="url(#dh)"/>
<path d="M381.4,406.8 L383.2,406.9 L385.0,406.6 L386.8,406.4 L388.6,406.3 L390.4,406.1 L392.2,406.0 L394.0,405.9 L395.8,405.4 L397.6,405.1 L399.4,404.9 L401.2,405.2 L403.0,405.0 L404.8,404.6 L406.6,404.2 L408.4,404.1 L410.2,403.8 L412.0,403.0 L413.8,402.1 L415.6,401.5 L417.4,400.6 L419.2,399.1 L421.0,397.6 L422.8,394.9 L424.6,390.9 L426.4,385.3 L428.2,378.6 L430.0,371.1 L431.8,364.2 L433.6,357.3 L435.4,351.1 L437.2,347.8 L439.0,345.4 L440.8,340.7 L442.6,338.8 L444.4,336.3 L446.2,336.0 L448.0,335.2 L449.8,335.3 L451.6,333.7 L453.4,334.6 L455.2,333.3 L457.0,333.2 L458.8,332.7 L460.6,330.8 L462.4,330.5 L464.2,328.8 L466.0,329.2 L467.8,327.1 L469.6,327.1 L471.4,323.6 L473.2,321.1 L475.0,320.2 L476.8,318.2 L478.6,315.2 L480.4,313.3 L482.2,309.9 L484.0,310.7 L485.8,305.0 L487.6,302.4 L489.4,298.4 L491.2,296.8 L493.0,293.2 L494.8,290.4 L496.6,288.5 L498.4,284.0 L500.2,283.1 L502.0,278.7 L503.8,276.0 L505.6,272.2 L507.4,267.8 L509.2,265.5 L511.0,263.6 L512.8,263.2 L514.6,262.3 L516.4,261.8 L518.2,262.9 L520.0,262.5 L521.8,262.3 L523.6,261.1 L525.4,260.7 L527.2,262.0 L529.0,261.7 L530.8,262.2 L532.6,263.9 L534.4,264.0 L536.2,263.6 L538.0,263.5 L539.8,265.1 L541.6,265.6 L543.4,266.5 L545.2,267.0 L547.0,265.0 L548.8,267.4 L550.6,264.2 L552.4,264.5 L554.2,265.3 L556.0,264.3 L557.8,263.1 L559.6,263.9 L561.4,262.5 L563.2,262.7 L565.0,262.6 L566.8,264.0 L568.6,263.3 L570.4,264.8 L572.2,265.7 L574.0,265.1 L575.8,265.3 L577.6,265.3 L579.4,267.9 L581.2,267.1 L583.0,268.0 L584.8,268.3 L586.6,268.5 L588.4,269.5 L590.2,269.0 L592.0,271.6 L593.8,270.4 L595.6,271.2 L597.4,271.6 L599.2,271.8 L601.0,273.1 L602.8,271.3 L604.6,273.2 L606.4,274.3 L608.2,273.5 L610.0,273.8 L611.8,275.3 L613.6,274.7 L615.4,274.1 L617.2,276.5 L619.0,276.4 L620.8,274.7 L622.6,276.0 L624.4,275.3 L626.2,274.4 L628.0,273.0 L629.8,274.6 L631.6,275.2 L633.4,273.6 L635.2,273.3 L637.0,273.3 L638.8,273.0 L640.6,273.2 L642.4,273.6 L644.2,271.5 L646.0,272.0 L647.8,272.1 L649.6,270.9 L651.4,271.3 L653.2,270.4 L655.0,270.5 L656.8,269.4 L658.6,268.9 L660.4,270.2 L662.2,269.9 L664.0,268.8 L665.8,269.1 L667.6,267.5 L669.4,268.2 L671.2,268.5 L673.0,270.0 L674.8,267.9 L676.6,268.4 L677.0,268.9" fill="none" stroke="#98c5c4" stroke-width="1.35" stroke-linejoin="round" clip-path="url(#dh)"/>
<path d="M381.0,406.5 L382.8,406.2 L384.6,406.1 L386.4,406.1 L388.2,406.0 L390.0,406.0 L391.8,405.8 L393.6,406.0 L395.4,405.5 L397.2,405.4 L399.0,405.0 L400.8,404.8 L402.6,404.7 L404.4,404.6 L406.2,404.0 L408.0,403.6 L409.8,403.5 L411.6,403.4 L413.4,402.7 L415.2,402.3 L417.0,401.7 L418.8,400.6 L420.6,399.3 L422.4,398.7 L424.2,397.3 L426.0,396.0 L427.8,393.8 L429.6,390.6 L431.4,386.1 L433.2,380.4 L435.0,374.4 L436.8,368.6 L438.6,363.5 L440.4,355.6 L442.2,347.2 L444.0,340.4 L445.8,335.0 L447.6,332.7 L449.4,331.0 L451.2,331.7 L453.0,332.3 L454.8,334.2 L456.6,334.0 L458.4,334.3 L460.2,334.3 L462.0,335.4 L463.8,333.6 L465.6,332.1 L467.4,329.4 L469.2,328.4 L471.0,324.9 L472.8,322.2 L474.6,321.4 L476.4,319.2 L478.2,317.0 L480.0,315.2 L481.8,312.6 L483.6,309.9 L485.4,308.0 L487.2,303.6 L489.0,302.0 L490.8,297.8 L492.6,294.7 L494.4,290.1 L496.2,288.2 L498.0,285.8 L499.8,282.9 L501.6,278.9 L503.4,275.2 L505.2,272.6 L507.0,269.4 L508.8,263.5 L510.6,261.5 L512.4,259.2 L514.2,257.1 L516.0,254.1 L517.8,253.8 L519.6,252.5 L521.4,251.2 L523.2,251.1 L525.0,250.3 L526.8,248.2 L528.6,249.2 L530.4,247.1 L532.2,249.1 L534.0,247.6 L535.8,250.2 L537.6,249.6 L539.4,251.6 L541.2,252.6 L543.0,252.2 L544.8,253.6 L546.6,252.8 L548.4,254.1 L550.2,255.8 L552.0,256.7 L553.8,257.2 L555.6,257.3 L557.4,258.9 L559.2,258.2 L561.0,258.4 L562.8,259.0 L564.6,259.6 L566.4,260.4 L568.2,260.4 L570.0,262.4 L571.8,262.0 L573.6,261.7 L575.4,263.0 L577.2,263.7 L579.0,263.8 L580.8,263.5 L582.6,263.6 L584.4,264.0 L586.2,265.1 L588.0,264.9 L589.8,264.4 L591.6,266.0 L593.4,264.3 L595.2,265.6 L597.0,267.1 L598.8,266.7 L600.6,264.8 L602.4,265.9 L604.2,265.9 L606.0,267.3 L607.8,267.1 L609.6,267.9 L611.4,267.7 L613.2,267.8 L615.0,266.8 L616.8,267.2 L618.6,267.3 L620.4,266.8 L622.2,269.6 L624.0,268.1 L625.8,266.6 L627.6,268.5 L629.4,267.3 L631.2,268.4 L633.0,267.5 L634.8,267.1 L636.6,267.3 L638.4,267.0 L640.2,267.7 L642.0,267.1 L643.8,268.7 L645.6,268.0 L647.4,268.6 L649.2,269.2 L651.0,268.3 L652.8,268.2 L654.6,270.7 L656.4,268.5 L658.2,269.3 L660.0,270.4 L661.8,270.5 L663.6,270.0 L665.4,269.4 L667.2,271.1 L669.0,270.7 L670.8,270.3 L672.6,270.4 L674.4,270.6 L676.2,271.9 L677.0,271.2" fill="none" stroke="#1413d2" stroke-width="1.35" stroke-linejoin="round" clip-path="url(#dh)"/>
<path d="M381.4,408.2 L383.2,406.6 L385.0,406.4 L386.8,406.4 L388.6,406.3 L390.4,406.0 L392.2,406.1 L394.0,406.1 L395.8,405.9 L397.6,405.7 L399.4,405.5 L401.2,405.1 L403.0,404.8 L404.8,404.7 L406.6,404.5 L408.4,404.6 L410.2,403.6 L412.0,403.8 L413.8,402.9 L415.6,402.5 L417.4,401.7 L419.2,400.6 L421.0,399.9 L422.8,399.2 L424.6,397.7 L426.4,396.7 L428.2,394.2 L430.0,390.8 L431.8,386.5 L433.6,380.5 L435.4,374.8 L437.2,369.6 L439.0,363.1 L440.8,356.7 L442.6,348.9 L444.4,341.7 L446.2,337.7 L448.0,335.5 L449.8,335.0 L451.6,334.5 L453.4,335.7 L455.2,336.2 L457.0,337.2 L458.8,338.9 L460.6,337.5 L462.4,337.5 L464.2,336.2 L466.0,334.5 L467.8,331.5 L469.6,330.9 L471.4,328.6 L473.2,325.3 L475.0,323.1 L476.8,321.0 L478.6,317.6 L480.4,316.0 L482.2,313.1 L484.0,309.9 L485.8,307.3 L487.6,303.6 L489.4,302.0 L491.2,299.2 L493.0,293.8 L494.8,291.5 L496.6,289.0 L498.4,283.7 L500.2,281.7 L502.0,278.9 L503.8,276.3 L505.6,271.7 L507.4,268.0 L509.2,265.4 L511.0,261.3 L512.8,259.4 L514.6,256.8 L516.4,255.4 L518.2,253.4 L520.0,254.0 L521.8,252.2 L523.6,252.1 L525.4,248.8 L527.2,248.8 L529.0,248.5 L530.8,247.7 L532.6,248.0 L534.4,248.4 L536.2,249.9 L538.0,250.9 L539.8,252.0 L541.6,252.9 L543.4,253.6 L545.2,253.9 L547.0,254.1 L548.8,257.8 L550.6,256.2 L552.4,256.3 L554.2,258.3 L556.0,258.1 L557.8,257.5 L559.6,259.1 L561.4,259.0 L563.2,259.3 L565.0,259.5 L566.8,261.3 L568.6,260.8 L570.4,262.0 L572.2,261.5 L574.0,263.0 L575.8,263.4 L577.6,263.9 L579.4,264.1 L581.2,264.5 L583.0,264.2 L584.8,265.7 L586.6,265.6 L588.4,265.1 L590.2,264.7 L592.0,266.2 L593.8,265.7 L595.6,265.1 L597.4,266.4 L599.2,266.9 L601.0,267.4 L602.8,267.3 L604.6,266.8 L606.4,266.6 L608.2,267.3 L610.0,268.9 L611.8,267.7 L613.6,267.4 L615.4,267.6 L617.2,268.8 L619.0,268.6 L620.8,268.3 L622.6,267.8 L624.4,268.1 L626.2,268.7 L628.0,268.3 L629.8,269.6 L631.6,269.1 L633.4,268.5 L635.2,268.4 L637.0,270.1 L638.8,268.9 L640.6,269.5 L642.4,268.6 L644.2,269.4 L646.0,269.2 L647.8,270.4 L649.6,270.7 L651.4,269.6 L653.2,270.5 L655.0,271.3 L656.8,268.9 L658.6,271.0 L660.4,270.8 L662.2,272.3 L664.0,271.2 L665.8,268.7 L667.6,271.7 L669.4,271.6 L671.2,271.0 L673.0,272.1 L674.8,271.8 L676.6,273.0 L677.0,271.7" fill="none" stroke="#152d41" stroke-width="1.35" stroke-linejoin="round" clip-path="url(#dh)"/>
<rect x="500.3" y="245.3" width="74.80000000000001" height="30.19999999999999" fill="none" stroke="#c9b592" stroke-width="0.6" stroke-dasharray="2,1.5"/>
<line x1="575.3" y1="275.3" x2="575.3" y2="282.0" stroke="#f6dca8" stroke-width="0.8"/>
<path d="M573.5,281.6 L577.0999999999999,281.6 L575.3,285.0 Z" fill="#f0be4a"/>
<rect x="512.0" y="286.2" width="150.29999999999995" height="113.19999999999999" fill="#fff" stroke="#8a8a8a" stroke-width="0.9"/>
<clipPath id="di"><rect x="512.0" y="286.2" width="150.29999999999995" height="113.19999999999999"/></clipPath>
<path d="M512.0,375.7 L514.3,375.8 L516.6,373.3 L518.9,372.1 L521.2,369.7 L523.5,369.5 L525.8,367.2 L528.1,364.6 L530.4,360.3 L532.7,359.0 L535.0,355.5 L537.3,352.7 L539.6,349.1 L541.9,346.6 L544.2,344.0 L546.5,340.5 L548.8,336.0 L551.1,333.4 L553.4,330.0 L555.7,327.9 L558.0,324.7 L560.3,320.4 L562.6,318.3 L564.9,317.6 L567.2,314.3 L569.5,314.6 L571.8,311.0 L574.1,312.5 L576.4,311.3 L578.7,309.4 L581.0,310.8 L583.3,310.7 L585.6,312.8 L587.9,312.7 L590.2,311.8 L592.5,313.0 L594.8,315.1 L597.1,317.7 L599.4,318.7 L601.7,318.2 L604.0,319.0 L606.3,318.5 L608.6,316.6 L610.9,316.6 L613.2,317.1 L615.5,316.0 L617.8,313.6 L620.1,317.1 L622.4,315.0 L624.7,315.3 L627.0,313.5 L629.3,314.5 L631.6,312.0 L633.9,312.7 L636.2,310.2 L638.5,313.7 L640.8,313.9 L643.1,312.3 L645.4,313.5 L647.7,313.7 L650.0,316.5 L652.3,314.6 L654.6,314.3 L656.9,315.1 L659.2,318.3 L661.5,320.0 L662.5,318.4" fill="none" stroke="#bdbdbd" stroke-width="1.35" stroke-linejoin="round" clip-path="url(#di)"/>
<path d="M512.0,379.0 L514.3,378.5 L516.6,374.7 L518.9,374.9 L521.2,371.5 L523.5,369.0 L525.8,366.9 L528.1,364.7 L530.4,360.8 L532.7,359.5 L535.0,356.0 L537.3,352.5 L539.6,349.3 L541.9,347.5 L544.2,343.3 L546.5,341.1 L548.8,337.3 L551.1,336.1 L553.4,329.4 L555.7,328.6 L558.0,324.0 L560.3,321.1 L562.6,319.7 L564.9,319.3 L567.2,315.8 L569.5,312.7 L571.8,312.8 L574.1,311.7 L576.4,310.1 L578.7,311.7 L581.0,311.1 L583.3,314.1 L585.6,312.4 L587.9,312.4 L590.2,315.2 L592.5,314.5 L594.8,314.6 L597.1,315.7 L599.4,318.8 L601.7,319.5 L604.0,319.7 L606.3,319.6 L608.6,318.6 L610.9,317.7 L613.2,318.6 L615.5,318.6 L617.8,316.7 L620.1,317.1 L622.4,316.4 L624.7,315.9 L627.0,316.0 L629.3,314.5 L631.6,313.4 L633.9,313.9 L636.2,314.3 L638.5,314.4 L640.8,312.8 L643.1,312.0 L645.4,314.6 L647.7,315.1 L650.0,315.4 L652.3,316.7 L654.6,316.6 L656.9,317.5 L659.2,318.5 L661.5,317.2 L662.5,318.8" fill="none" stroke="#9cd3ee" stroke-width="1.35" stroke-linejoin="round" clip-path="url(#di)"/>
<path d="M511.8,383.1 L514.1,382.4 L516.4,380.3 L518.7,376.8 L521.0,377.1 L523.3,374.3 L525.6,371.3 L527.9,368.2 L530.2,366.8 L532.5,362.5 L534.8,360.8 L537.1,358.2 L539.4,354.1 L541.7,350.1 L544.0,346.5 L546.3,342.8 L548.6,340.2 L550.9,336.7 L553.2,331.2 L555.5,326.9 L557.8,322.3 L560.1,317.7 L562.4,314.2 L564.7,309.3 L567.0,308.2 L569.3,306.9 L571.6,306.4 L573.9,302.3 L576.2,302.2 L578.5,302.1 L580.8,300.3 L583.1,299.3 L585.4,299.1 L587.7,296.1 L590.0,297.3 L592.3,299.0 L594.6,297.4 L596.9,300.5 L599.2,299.7 L601.5,300.6 L603.8,300.8 L606.1,301.6 L608.4,301.5 L610.7,300.3 L613.0,305.2 L615.3,302.8 L617.6,305.4 L619.9,306.4 L622.2,308.4 L624.5,307.2 L626.8,307.7 L629.1,309.2 L631.4,310.1 L633.7,310.0 L636.0,309.3 L638.3,312.7 L640.6,311.6 L642.9,314.4 L645.2,313.3 L647.5,315.4 L649.8,313.7 L652.1,314.3 L654.4,315.3 L656.7,315.1 L659.0,314.8 L661.3,316.6 L662.3,315.6" fill="none" stroke="#1414ff" stroke-width="1.35" stroke-linejoin="round" clip-path="url(#di)"/>
<path d="M512.0,384.7 L514.3,382.1 L516.6,380.7 L518.9,378.8 L521.2,377.5 L523.5,375.5 L525.8,370.6 L528.1,367.8 L530.4,366.3 L532.7,363.7 L535.0,360.5 L537.3,356.2 L539.6,355.3 L541.9,350.7 L544.2,349.4 L546.5,344.4 L548.8,341.2 L551.1,335.3 L553.4,332.7 L555.7,327.3 L558.0,323.6 L560.3,317.4 L562.6,315.5 L564.9,311.9 L567.2,309.4 L569.5,308.0 L571.8,306.5 L574.1,305.2 L576.4,303.3 L578.7,302.6 L581.0,300.3 L583.3,299.4 L585.6,300.7 L587.9,298.0 L590.2,300.1 L592.5,297.1 L594.8,298.9 L597.1,299.3 L599.4,300.1 L601.7,300.8 L604.0,300.5 L606.3,300.4 L608.6,300.0 L610.9,302.1 L613.2,303.6 L615.5,302.3 L617.8,304.0 L620.1,306.1 L622.4,309.8 L624.7,307.7 L627.0,310.6 L629.3,309.0 L631.6,309.2 L633.9,310.5 L636.2,311.9 L638.5,312.1 L640.8,314.1 L643.1,314.0 L645.4,315.2 L647.7,315.7 L650.0,316.4 L652.3,314.6 L654.6,314.9 L656.9,317.7 L659.2,316.0 L661.5,315.8 L662.5,318.3" fill="none" stroke="#15304f" stroke-width="1.35" stroke-linejoin="round" clip-path="url(#di)"/>
<line x1="512.00" y1="399.4" x2="512.00" y2="401.0" stroke="#6d6e71" stroke-width="0.7"/>
<text x="512.00" y="408.90" font-size="6" text-anchor="middle" textLength="15.6" lengthAdjust="spacingAndGlyphs" fill="#231f20">8,985</text>
<line x1="549.58" y1="399.4" x2="549.58" y2="401.0" stroke="#6d6e71" stroke-width="0.7"/>
<text x="549.58" y="408.90" font-size="6" text-anchor="middle" textLength="15.6" lengthAdjust="spacingAndGlyphs" fill="#231f20">8,990</text>
<line x1="587.15" y1="399.4" x2="587.15" y2="401.0" stroke="#6d6e71" stroke-width="0.7"/>
<text x="587.15" y="408.90" font-size="6" text-anchor="middle" textLength="15.6" lengthAdjust="spacingAndGlyphs" fill="#231f20">8,995</text>
<line x1="624.72" y1="399.4" x2="624.72" y2="401.0" stroke="#6d6e71" stroke-width="0.7"/>
<text x="624.72" y="408.90" font-size="6" text-anchor="middle" textLength="15.6" lengthAdjust="spacingAndGlyphs" fill="#231f20">9,000</text>
<line x1="662.30" y1="399.4" x2="662.30" y2="401.0" stroke="#6d6e71" stroke-width="0.7"/>
<text x="662.30" y="408.90" font-size="6" text-anchor="middle" textLength="15.6" lengthAdjust="spacingAndGlyphs" fill="#231f20">9,005</text>
<text x="568.00" y="415.70" font-size="7" textLength="38.5" lengthAdjust="spacingAndGlyphs" fill="#231f20">Energy (eV)</text>
<text transform="translate(508.4,370.50) rotate(-90)" x="0" y="0" font-size="6.5" fill="#231f20" textLength="53.7" lengthAdjust="spacingAndGlyphs">Normalized <tspan font-style="italic">μ</tspan>(<tspan font-style="italic">E</tspan>)</text>
</svg>
</body></html>
